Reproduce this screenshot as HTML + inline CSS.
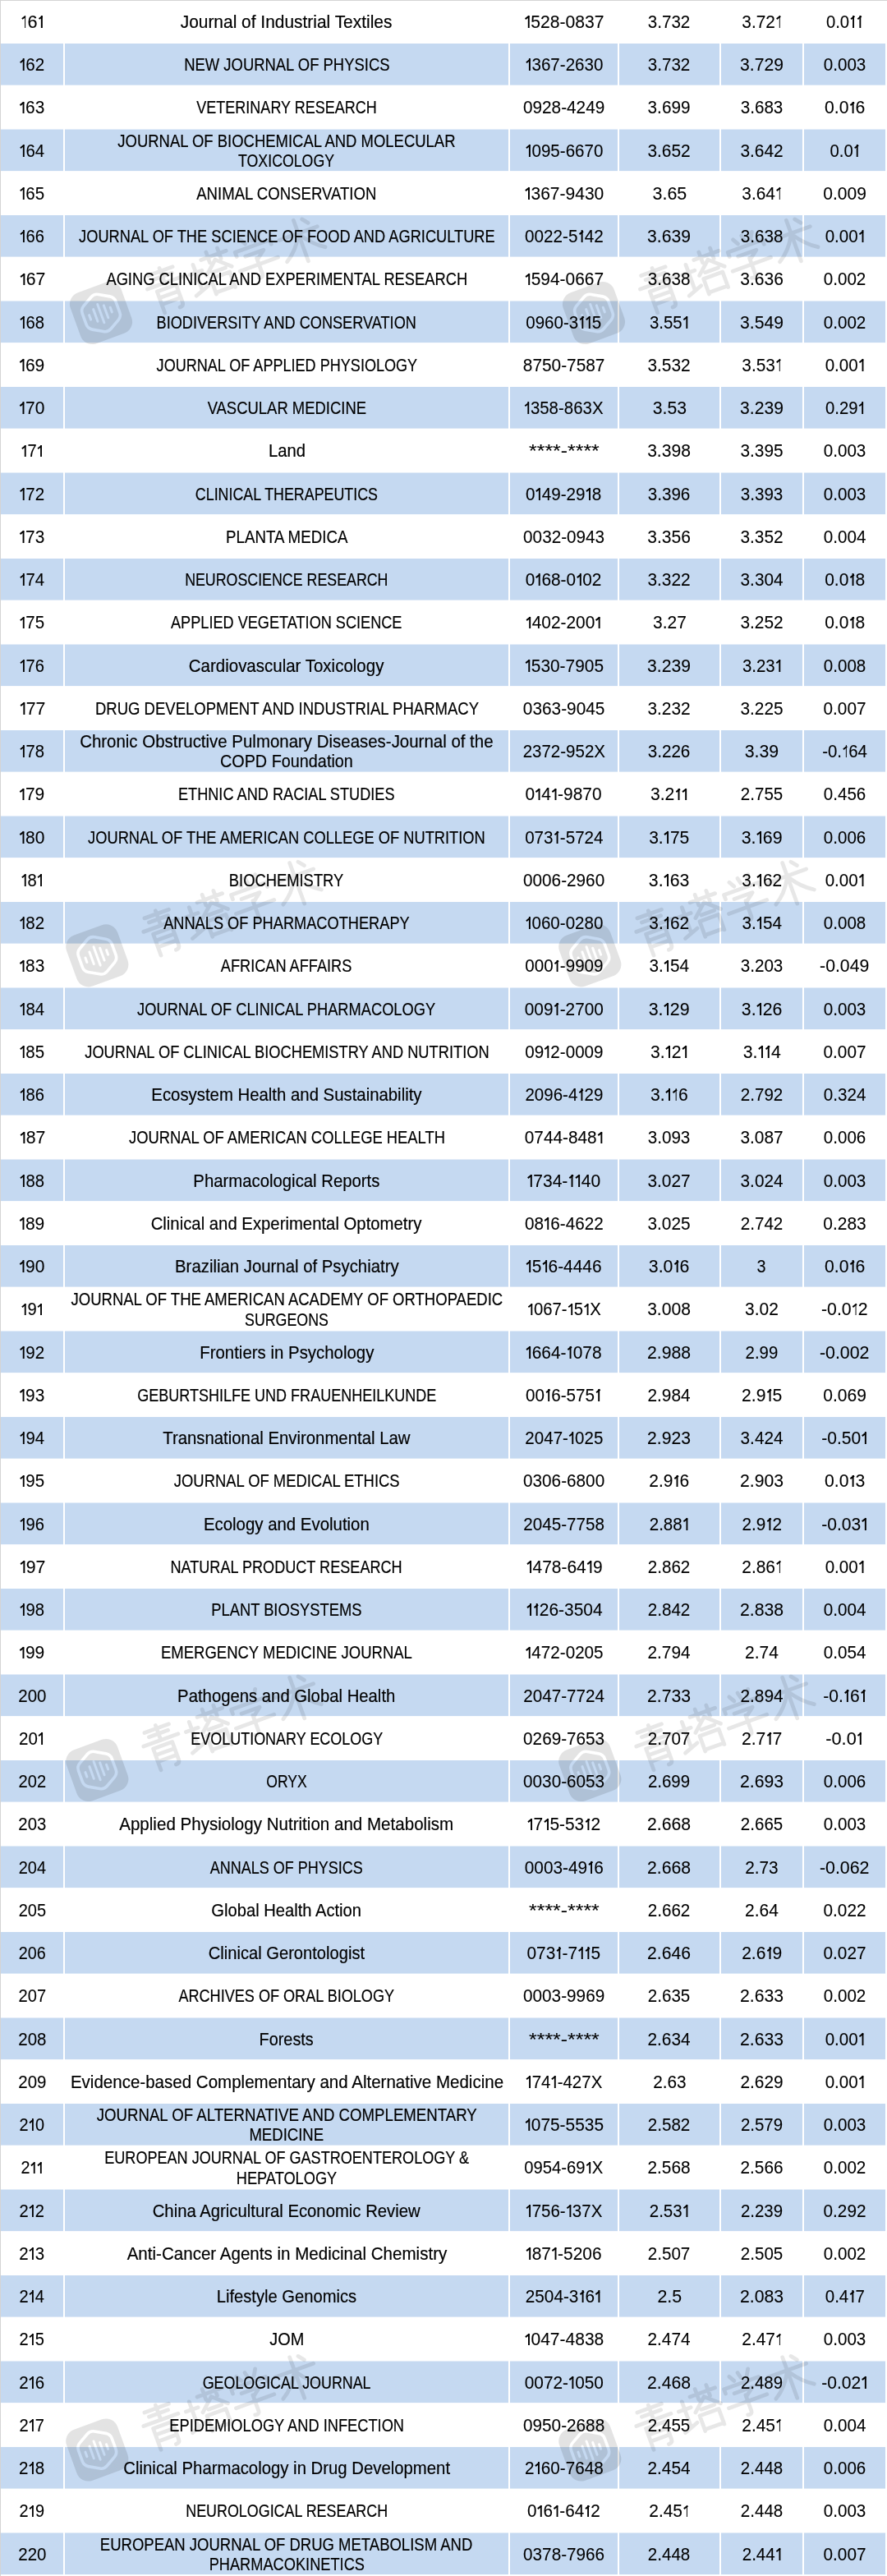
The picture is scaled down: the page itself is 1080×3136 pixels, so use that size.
<!DOCTYPE html>
<html><head><meta charset="utf-8"><title>table</title><style>
html,body{margin:0;padding:0;background:#fff}
body{width:1080px;height:3136px;overflow:hidden;position:relative;font-family:"Liberation Sans",sans-serif;font-size:22px;color:#000}
.c{position:absolute;display:flex;flex-direction:column;align-items:center;justify-content:center}
.t{display:block;white-space:nowrap;line-height:24.2px;-webkit-text-stroke:0.2px #000}
.n{-webkit-text-stroke:0.1px #000}
.o{display:inline-block;position:relative;height:14.8px;vertical-align:baseline;width:calc(8.2px / var(--k))}
.o::before{content:"";position:absolute;right:calc(1.9px / var(--k));top:0;width:calc(1.85px / var(--k));height:14.8px;background:#000}
.o::after{content:"";position:absolute;right:calc(2.8px / var(--k));top:0.2px;width:calc(5.4px / var(--k));height:1.8px;background:#000;transform:rotate(-36deg);transform-origin:100% 0}
svg{position:absolute;left:0;top:0}
</style></head><body>

<svg width="1080" height="3136" viewBox="0 0 1080 3136">
<rect x="0" y="0" width="1080" height="1" fill="#d4d4d4"/>
<rect x="0" y="0" width="1" height="3136" fill="#d4d4d4"/>
<rect x="1" y="53.00" width="76" height="50.60" fill="#c5d9f1"/>
<rect x="79" y="53.00" width="540" height="50.60" fill="#c5d9f1"/>
<rect x="621" y="53.00" width="131" height="50.60" fill="#c5d9f1"/>
<rect x="754" y="53.00" width="122" height="50.60" fill="#c5d9f1"/>
<rect x="878" y="53.00" width="99" height="50.60" fill="#c5d9f1"/>
<rect x="979" y="53.00" width="99" height="50.60" fill="#c5d9f1"/>
<rect x="1" y="157.50" width="76" height="50.60" fill="#c5d9f1"/>
<rect x="79" y="157.50" width="540" height="50.60" fill="#c5d9f1"/>
<rect x="621" y="157.50" width="131" height="50.60" fill="#c5d9f1"/>
<rect x="754" y="157.50" width="122" height="50.60" fill="#c5d9f1"/>
<rect x="878" y="157.50" width="99" height="50.60" fill="#c5d9f1"/>
<rect x="979" y="157.50" width="99" height="50.60" fill="#c5d9f1"/>
<rect x="1" y="262.00" width="76" height="50.60" fill="#c5d9f1"/>
<rect x="79" y="262.00" width="540" height="50.60" fill="#c5d9f1"/>
<rect x="621" y="262.00" width="131" height="50.60" fill="#c5d9f1"/>
<rect x="754" y="262.00" width="122" height="50.60" fill="#c5d9f1"/>
<rect x="878" y="262.00" width="99" height="50.60" fill="#c5d9f1"/>
<rect x="979" y="262.00" width="99" height="50.60" fill="#c5d9f1"/>
<rect x="1" y="366.50" width="76" height="50.60" fill="#c5d9f1"/>
<rect x="79" y="366.50" width="540" height="50.60" fill="#c5d9f1"/>
<rect x="621" y="366.50" width="131" height="50.60" fill="#c5d9f1"/>
<rect x="754" y="366.50" width="122" height="50.60" fill="#c5d9f1"/>
<rect x="878" y="366.50" width="99" height="50.60" fill="#c5d9f1"/>
<rect x="979" y="366.50" width="99" height="50.60" fill="#c5d9f1"/>
<rect x="1" y="471.00" width="76" height="50.60" fill="#c5d9f1"/>
<rect x="79" y="471.00" width="540" height="50.60" fill="#c5d9f1"/>
<rect x="621" y="471.00" width="131" height="50.60" fill="#c5d9f1"/>
<rect x="754" y="471.00" width="122" height="50.60" fill="#c5d9f1"/>
<rect x="878" y="471.00" width="99" height="50.60" fill="#c5d9f1"/>
<rect x="979" y="471.00" width="99" height="50.60" fill="#c5d9f1"/>
<rect x="1" y="575.50" width="76" height="50.60" fill="#c5d9f1"/>
<rect x="79" y="575.50" width="540" height="50.60" fill="#c5d9f1"/>
<rect x="621" y="575.50" width="131" height="50.60" fill="#c5d9f1"/>
<rect x="754" y="575.50" width="122" height="50.60" fill="#c5d9f1"/>
<rect x="878" y="575.50" width="99" height="50.60" fill="#c5d9f1"/>
<rect x="979" y="575.50" width="99" height="50.60" fill="#c5d9f1"/>
<rect x="1" y="680.00" width="76" height="50.60" fill="#c5d9f1"/>
<rect x="79" y="680.00" width="540" height="50.60" fill="#c5d9f1"/>
<rect x="621" y="680.00" width="131" height="50.60" fill="#c5d9f1"/>
<rect x="754" y="680.00" width="122" height="50.60" fill="#c5d9f1"/>
<rect x="878" y="680.00" width="99" height="50.60" fill="#c5d9f1"/>
<rect x="979" y="680.00" width="99" height="50.60" fill="#c5d9f1"/>
<rect x="1" y="784.50" width="76" height="50.60" fill="#c5d9f1"/>
<rect x="79" y="784.50" width="540" height="50.60" fill="#c5d9f1"/>
<rect x="621" y="784.50" width="131" height="50.60" fill="#c5d9f1"/>
<rect x="754" y="784.50" width="122" height="50.60" fill="#c5d9f1"/>
<rect x="878" y="784.50" width="99" height="50.60" fill="#c5d9f1"/>
<rect x="979" y="784.50" width="99" height="50.60" fill="#c5d9f1"/>
<rect x="1" y="889.00" width="76" height="50.60" fill="#c5d9f1"/>
<rect x="79" y="889.00" width="540" height="50.60" fill="#c5d9f1"/>
<rect x="621" y="889.00" width="131" height="50.60" fill="#c5d9f1"/>
<rect x="754" y="889.00" width="122" height="50.60" fill="#c5d9f1"/>
<rect x="878" y="889.00" width="99" height="50.60" fill="#c5d9f1"/>
<rect x="979" y="889.00" width="99" height="50.60" fill="#c5d9f1"/>
<rect x="1" y="993.50" width="76" height="50.60" fill="#c5d9f1"/>
<rect x="79" y="993.50" width="540" height="50.60" fill="#c5d9f1"/>
<rect x="621" y="993.50" width="131" height="50.60" fill="#c5d9f1"/>
<rect x="754" y="993.50" width="122" height="50.60" fill="#c5d9f1"/>
<rect x="878" y="993.50" width="99" height="50.60" fill="#c5d9f1"/>
<rect x="979" y="993.50" width="99" height="50.60" fill="#c5d9f1"/>
<rect x="1" y="1098.00" width="76" height="50.60" fill="#c5d9f1"/>
<rect x="79" y="1098.00" width="540" height="50.60" fill="#c5d9f1"/>
<rect x="621" y="1098.00" width="131" height="50.60" fill="#c5d9f1"/>
<rect x="754" y="1098.00" width="122" height="50.60" fill="#c5d9f1"/>
<rect x="878" y="1098.00" width="99" height="50.60" fill="#c5d9f1"/>
<rect x="979" y="1098.00" width="99" height="50.60" fill="#c5d9f1"/>
<rect x="1" y="1202.50" width="76" height="50.60" fill="#c5d9f1"/>
<rect x="79" y="1202.50" width="540" height="50.60" fill="#c5d9f1"/>
<rect x="621" y="1202.50" width="131" height="50.60" fill="#c5d9f1"/>
<rect x="754" y="1202.50" width="122" height="50.60" fill="#c5d9f1"/>
<rect x="878" y="1202.50" width="99" height="50.60" fill="#c5d9f1"/>
<rect x="979" y="1202.50" width="99" height="50.60" fill="#c5d9f1"/>
<rect x="1" y="1307.00" width="76" height="50.60" fill="#c5d9f1"/>
<rect x="79" y="1307.00" width="540" height="50.60" fill="#c5d9f1"/>
<rect x="621" y="1307.00" width="131" height="50.60" fill="#c5d9f1"/>
<rect x="754" y="1307.00" width="122" height="50.60" fill="#c5d9f1"/>
<rect x="878" y="1307.00" width="99" height="50.60" fill="#c5d9f1"/>
<rect x="979" y="1307.00" width="99" height="50.60" fill="#c5d9f1"/>
<rect x="1" y="1411.50" width="76" height="50.60" fill="#c5d9f1"/>
<rect x="79" y="1411.50" width="540" height="50.60" fill="#c5d9f1"/>
<rect x="621" y="1411.50" width="131" height="50.60" fill="#c5d9f1"/>
<rect x="754" y="1411.50" width="122" height="50.60" fill="#c5d9f1"/>
<rect x="878" y="1411.50" width="99" height="50.60" fill="#c5d9f1"/>
<rect x="979" y="1411.50" width="99" height="50.60" fill="#c5d9f1"/>
<rect x="1" y="1516.00" width="76" height="50.60" fill="#c5d9f1"/>
<rect x="79" y="1516.00" width="540" height="50.60" fill="#c5d9f1"/>
<rect x="621" y="1516.00" width="131" height="50.60" fill="#c5d9f1"/>
<rect x="754" y="1516.00" width="122" height="50.60" fill="#c5d9f1"/>
<rect x="878" y="1516.00" width="99" height="50.60" fill="#c5d9f1"/>
<rect x="979" y="1516.00" width="99" height="50.60" fill="#c5d9f1"/>
<rect x="1" y="1620.50" width="76" height="50.60" fill="#c5d9f1"/>
<rect x="79" y="1620.50" width="540" height="50.60" fill="#c5d9f1"/>
<rect x="621" y="1620.50" width="131" height="50.60" fill="#c5d9f1"/>
<rect x="754" y="1620.50" width="122" height="50.60" fill="#c5d9f1"/>
<rect x="878" y="1620.50" width="99" height="50.60" fill="#c5d9f1"/>
<rect x="979" y="1620.50" width="99" height="50.60" fill="#c5d9f1"/>
<rect x="1" y="1725.00" width="76" height="50.60" fill="#c5d9f1"/>
<rect x="79" y="1725.00" width="540" height="50.60" fill="#c5d9f1"/>
<rect x="621" y="1725.00" width="131" height="50.60" fill="#c5d9f1"/>
<rect x="754" y="1725.00" width="122" height="50.60" fill="#c5d9f1"/>
<rect x="878" y="1725.00" width="99" height="50.60" fill="#c5d9f1"/>
<rect x="979" y="1725.00" width="99" height="50.60" fill="#c5d9f1"/>
<rect x="1" y="1829.50" width="76" height="50.60" fill="#c5d9f1"/>
<rect x="79" y="1829.50" width="540" height="50.60" fill="#c5d9f1"/>
<rect x="621" y="1829.50" width="131" height="50.60" fill="#c5d9f1"/>
<rect x="754" y="1829.50" width="122" height="50.60" fill="#c5d9f1"/>
<rect x="878" y="1829.50" width="99" height="50.60" fill="#c5d9f1"/>
<rect x="979" y="1829.50" width="99" height="50.60" fill="#c5d9f1"/>
<rect x="1" y="1934.00" width="76" height="50.60" fill="#c5d9f1"/>
<rect x="79" y="1934.00" width="540" height="50.60" fill="#c5d9f1"/>
<rect x="621" y="1934.00" width="131" height="50.60" fill="#c5d9f1"/>
<rect x="754" y="1934.00" width="122" height="50.60" fill="#c5d9f1"/>
<rect x="878" y="1934.00" width="99" height="50.60" fill="#c5d9f1"/>
<rect x="979" y="1934.00" width="99" height="50.60" fill="#c5d9f1"/>
<rect x="1" y="2038.50" width="76" height="50.60" fill="#c5d9f1"/>
<rect x="79" y="2038.50" width="540" height="50.60" fill="#c5d9f1"/>
<rect x="621" y="2038.50" width="131" height="50.60" fill="#c5d9f1"/>
<rect x="754" y="2038.50" width="122" height="50.60" fill="#c5d9f1"/>
<rect x="878" y="2038.50" width="99" height="50.60" fill="#c5d9f1"/>
<rect x="979" y="2038.50" width="99" height="50.60" fill="#c5d9f1"/>
<rect x="1" y="2143.00" width="76" height="50.60" fill="#c5d9f1"/>
<rect x="79" y="2143.00" width="540" height="50.60" fill="#c5d9f1"/>
<rect x="621" y="2143.00" width="131" height="50.60" fill="#c5d9f1"/>
<rect x="754" y="2143.00" width="122" height="50.60" fill="#c5d9f1"/>
<rect x="878" y="2143.00" width="99" height="50.60" fill="#c5d9f1"/>
<rect x="979" y="2143.00" width="99" height="50.60" fill="#c5d9f1"/>
<rect x="1" y="2247.50" width="76" height="50.60" fill="#c5d9f1"/>
<rect x="79" y="2247.50" width="540" height="50.60" fill="#c5d9f1"/>
<rect x="621" y="2247.50" width="131" height="50.60" fill="#c5d9f1"/>
<rect x="754" y="2247.50" width="122" height="50.60" fill="#c5d9f1"/>
<rect x="878" y="2247.50" width="99" height="50.60" fill="#c5d9f1"/>
<rect x="979" y="2247.50" width="99" height="50.60" fill="#c5d9f1"/>
<rect x="1" y="2352.00" width="76" height="50.60" fill="#c5d9f1"/>
<rect x="79" y="2352.00" width="540" height="50.60" fill="#c5d9f1"/>
<rect x="621" y="2352.00" width="131" height="50.60" fill="#c5d9f1"/>
<rect x="754" y="2352.00" width="122" height="50.60" fill="#c5d9f1"/>
<rect x="878" y="2352.00" width="99" height="50.60" fill="#c5d9f1"/>
<rect x="979" y="2352.00" width="99" height="50.60" fill="#c5d9f1"/>
<rect x="1" y="2456.50" width="76" height="50.60" fill="#c5d9f1"/>
<rect x="79" y="2456.50" width="540" height="50.60" fill="#c5d9f1"/>
<rect x="621" y="2456.50" width="131" height="50.60" fill="#c5d9f1"/>
<rect x="754" y="2456.50" width="122" height="50.60" fill="#c5d9f1"/>
<rect x="878" y="2456.50" width="99" height="50.60" fill="#c5d9f1"/>
<rect x="979" y="2456.50" width="99" height="50.60" fill="#c5d9f1"/>
<rect x="1" y="2561.00" width="76" height="50.60" fill="#c5d9f1"/>
<rect x="79" y="2561.00" width="540" height="50.60" fill="#c5d9f1"/>
<rect x="621" y="2561.00" width="131" height="50.60" fill="#c5d9f1"/>
<rect x="754" y="2561.00" width="122" height="50.60" fill="#c5d9f1"/>
<rect x="878" y="2561.00" width="99" height="50.60" fill="#c5d9f1"/>
<rect x="979" y="2561.00" width="99" height="50.60" fill="#c5d9f1"/>
<rect x="1" y="2665.50" width="76" height="50.60" fill="#c5d9f1"/>
<rect x="79" y="2665.50" width="540" height="50.60" fill="#c5d9f1"/>
<rect x="621" y="2665.50" width="131" height="50.60" fill="#c5d9f1"/>
<rect x="754" y="2665.50" width="122" height="50.60" fill="#c5d9f1"/>
<rect x="878" y="2665.50" width="99" height="50.60" fill="#c5d9f1"/>
<rect x="979" y="2665.50" width="99" height="50.60" fill="#c5d9f1"/>
<rect x="1" y="2770.00" width="76" height="50.60" fill="#c5d9f1"/>
<rect x="79" y="2770.00" width="540" height="50.60" fill="#c5d9f1"/>
<rect x="621" y="2770.00" width="131" height="50.60" fill="#c5d9f1"/>
<rect x="754" y="2770.00" width="122" height="50.60" fill="#c5d9f1"/>
<rect x="878" y="2770.00" width="99" height="50.60" fill="#c5d9f1"/>
<rect x="979" y="2770.00" width="99" height="50.60" fill="#c5d9f1"/>
<rect x="1" y="2874.50" width="76" height="50.60" fill="#c5d9f1"/>
<rect x="79" y="2874.50" width="540" height="50.60" fill="#c5d9f1"/>
<rect x="621" y="2874.50" width="131" height="50.60" fill="#c5d9f1"/>
<rect x="754" y="2874.50" width="122" height="50.60" fill="#c5d9f1"/>
<rect x="878" y="2874.50" width="99" height="50.60" fill="#c5d9f1"/>
<rect x="979" y="2874.50" width="99" height="50.60" fill="#c5d9f1"/>
<rect x="1" y="2979.00" width="76" height="50.60" fill="#c5d9f1"/>
<rect x="79" y="2979.00" width="540" height="50.60" fill="#c5d9f1"/>
<rect x="621" y="2979.00" width="131" height="50.60" fill="#c5d9f1"/>
<rect x="754" y="2979.00" width="122" height="50.60" fill="#c5d9f1"/>
<rect x="878" y="2979.00" width="99" height="50.60" fill="#c5d9f1"/>
<rect x="979" y="2979.00" width="99" height="50.60" fill="#c5d9f1"/>
<rect x="1" y="3083.50" width="76" height="50.60" fill="#c5d9f1"/>
<rect x="79" y="3083.50" width="540" height="50.60" fill="#c5d9f1"/>
<rect x="621" y="3083.50" width="131" height="50.60" fill="#c5d9f1"/>
<rect x="754" y="3083.50" width="122" height="50.60" fill="#c5d9f1"/>
<rect x="878" y="3083.50" width="99" height="50.60" fill="#c5d9f1"/>
<rect x="979" y="3083.50" width="99" height="50.60" fill="#c5d9f1"/>
</svg>
<div class="c" style="left:1px;top:1.75px;width:76px;height:50.60px"><span class="t n" style="transform:scaleX(0.9868);--k:0.9868"><i class="o"></i>6<i class="o"></i></span></div>
<div class="c" style="left:79px;top:1.75px;width:540px;height:50.60px"><span class="t" style="transform:scaleX(0.9507);--k:0.9507">Journal of Industrial Textiles</span></div>
<div class="c" style="left:621px;top:1.75px;width:131px;height:50.60px"><span class="t n" style="transform:scaleX(0.9607);--k:0.9607"><i class="o"></i>528-0837</span></div>
<div class="c" style="left:754px;top:1.75px;width:122px;height:50.60px"><span class="t n" style="transform:scaleX(0.9345);--k:0.9345">3.732</span></div>
<div class="c" style="left:878px;top:1.75px;width:99px;height:50.60px"><span class="t n" style="transform:scaleX(0.9466);--k:0.9466">3.72<i class="o"></i></span></div>
<div class="c" style="left:979px;top:1.75px;width:99px;height:50.60px"><span class="t n" style="transform:scaleX(0.9206);--k:0.9206">0.0<i class="o"></i><i class="o"></i></span></div>
<div class="c" style="left:1px;top:54.00px;width:76px;height:50.60px"><span class="t n" style="transform:scaleX(0.9343);--k:0.9343"><i class="o"></i>62</span></div>
<div class="c" style="left:79px;top:54.00px;width:540px;height:50.60px"><span class="t" style="transform:scaleX(0.8381);--k:0.8381">NEW JOURNAL OF PHYSICS</span></div>
<div class="c" style="left:621px;top:54.00px;width:131px;height:50.60px"><span class="t n" style="transform:scaleX(0.9358);--k:0.9358"><i class="o"></i>367-2630</span></div>
<div class="c" style="left:754px;top:54.00px;width:122px;height:50.60px"><span class="t n" style="transform:scaleX(0.9345);--k:0.9345">3.732</span></div>
<div class="c" style="left:878px;top:54.00px;width:99px;height:50.60px"><span class="t n" style="transform:scaleX(0.9608);--k:0.9608">3.729</span></div>
<div class="c" style="left:979px;top:54.00px;width:99px;height:50.60px"><span class="t n" style="transform:scaleX(0.9371);--k:0.9371">0.003</span></div>
<div class="c" style="left:1px;top:106.25px;width:76px;height:50.60px"><span class="t n" style="transform:scaleX(0.9484);--k:0.9484"><i class="o"></i>63</span></div>
<div class="c" style="left:79px;top:106.25px;width:540px;height:50.60px"><span class="t" style="transform:scaleX(0.8187);--k:0.8187">VETERINARY RESEARCH</span></div>
<div class="c" style="left:621px;top:106.25px;width:131px;height:50.60px"><span class="t n" style="transform:scaleX(0.9435);--k:0.9435">0928-4249</span></div>
<div class="c" style="left:754px;top:106.25px;width:122px;height:50.60px"><span class="t n" style="transform:scaleX(0.9423);--k:0.9423">3.699</span></div>
<div class="c" style="left:878px;top:106.25px;width:99px;height:50.60px"><span class="t n" style="transform:scaleX(0.9376);--k:0.9376">3.683</span></div>
<div class="c" style="left:979px;top:106.25px;width:99px;height:50.60px"><span class="t n" style="transform:scaleX(0.9616);--k:0.9616">0.0<i class="o"></i>6</span></div>
<div class="c" style="left:1px;top:158.50px;width:76px;height:50.60px"><span class="t n" style="transform:scaleX(0.9253);--k:0.9253"><i class="o"></i>64</span></div>
<div class="c" style="left:79px;top:158.50px;width:540px;height:50.60px"><span class="t" style="transform:scaleX(0.8395);--k:0.8395">JOURNAL OF BIOCHEMICAL AND MOLECULAR</span><span class="t" style="transform:scaleX(0.8061);--k:0.8061">TOXICOLOGY</span></div>
<div class="c" style="left:621px;top:158.50px;width:131px;height:50.60px"><span class="t n" style="transform:scaleX(0.9358);--k:0.9358"><i class="o"></i>095-6670</span></div>
<div class="c" style="left:754px;top:158.50px;width:122px;height:50.60px"><span class="t n" style="transform:scaleX(0.9491);--k:0.9491">3.652</span></div>
<div class="c" style="left:878px;top:158.50px;width:99px;height:50.60px"><span class="t n" style="transform:scaleX(0.9491);--k:0.9491">3.642</span></div>
<div class="c" style="left:979px;top:158.50px;width:99px;height:50.60px"><span class="t n" style="transform:scaleX(0.9205);--k:0.9205">0.0<i class="o"></i></span></div>
<div class="c" style="left:1px;top:210.75px;width:76px;height:50.60px"><span class="t n" style="transform:scaleX(0.9307);--k:0.9307"><i class="o"></i>65</span></div>
<div class="c" style="left:79px;top:210.75px;width:540px;height:50.60px"><span class="t" style="transform:scaleX(0.8444);--k:0.8444">ANIMAL CONSERVATION</span></div>
<div class="c" style="left:621px;top:210.75px;width:131px;height:50.60px"><span class="t n" style="transform:scaleX(0.9558);--k:0.9558"><i class="o"></i>367-9430</span></div>
<div class="c" style="left:754px;top:210.75px;width:122px;height:50.60px"><span class="t n" style="transform:scaleX(0.9747);--k:0.9747">3.65</span></div>
<div class="c" style="left:878px;top:210.75px;width:99px;height:50.60px"><span class="t n" style="transform:scaleX(0.9466);--k:0.9466">3.64<i class="o"></i></span></div>
<div class="c" style="left:979px;top:210.75px;width:99px;height:50.60px"><span class="t n" style="transform:scaleX(0.9574);--k:0.9574">0.009</span></div>
<div class="c" style="left:1px;top:263.00px;width:76px;height:50.60px"><span class="t n" style="transform:scaleX(0.9168);--k:0.9168"><i class="o"></i>66</span></div>
<div class="c" style="left:79px;top:263.00px;width:540px;height:50.60px"><span class="t" style="transform:scaleX(0.8295);--k:0.8295">JOURNAL OF THE SCIENCE OF FOOD AND AGRICULTURE</span></div>
<div class="c" style="left:621px;top:263.00px;width:131px;height:50.60px"><span class="t n" style="transform:scaleX(0.9406);--k:0.9406">0022-5<i class="o"></i>42</span></div>
<div class="c" style="left:754px;top:263.00px;width:122px;height:50.60px"><span class="t n" style="transform:scaleX(0.9608);--k:0.9608">3.639</span></div>
<div class="c" style="left:878px;top:263.00px;width:99px;height:50.60px"><span class="t n" style="transform:scaleX(0.9398);--k:0.9398">3.638</span></div>
<div class="c" style="left:979px;top:263.00px;width:99px;height:50.60px"><span class="t n" style="transform:scaleX(0.9351);--k:0.9351">0.00<i class="o"></i></span></div>
<div class="c" style="left:1px;top:315.25px;width:76px;height:50.60px"><span class="t n" style="transform:scaleX(0.9665);--k:0.9665"><i class="o"></i>67</span></div>
<div class="c" style="left:79px;top:315.25px;width:540px;height:50.60px"><span class="t" style="transform:scaleX(0.8319);--k:0.8319">AGING CLINICAL AND EXPERIMENTAL RESEARCH</span></div>
<div class="c" style="left:621px;top:315.25px;width:131px;height:50.60px"><span class="t n" style="transform:scaleX(0.9504);--k:0.9504"><i class="o"></i>594-0667</span></div>
<div class="c" style="left:754px;top:315.25px;width:122px;height:50.60px"><span class="t n" style="transform:scaleX(0.9398);--k:0.9398">3.638</span></div>
<div class="c" style="left:878px;top:315.25px;width:99px;height:50.60px"><span class="t n" style="transform:scaleX(0.9568);--k:0.9568">3.636</span></div>
<div class="c" style="left:979px;top:315.25px;width:99px;height:50.60px"><span class="t n" style="transform:scaleX(0.9373);--k:0.9373">0.002</span></div>
<div class="c" style="left:1px;top:367.50px;width:76px;height:50.60px"><span class="t n" style="transform:scaleX(0.9203);--k:0.9203"><i class="o"></i>68</span></div>
<div class="c" style="left:79px;top:367.50px;width:540px;height:50.60px"><span class="t" style="transform:scaleX(0.8247);--k:0.8247">BIODIVERSITY AND CONSERVATION</span></div>
<div class="c" style="left:621px;top:367.50px;width:131px;height:50.60px"><span class="t n" style="transform:scaleX(0.9336);--k:0.9336">0960-3<i class="o"></i><i class="o"></i>5</span></div>
<div class="c" style="left:754px;top:367.50px;width:122px;height:50.60px"><span class="t n" style="transform:scaleX(0.9265);--k:0.9265">3.55<i class="o"></i></span></div>
<div class="c" style="left:878px;top:367.50px;width:99px;height:50.60px"><span class="t n" style="transform:scaleX(0.9608);--k:0.9608">3.549</span></div>
<div class="c" style="left:979px;top:367.50px;width:99px;height:50.60px"><span class="t n" style="transform:scaleX(0.9373);--k:0.9373">0.002</span></div>
<div class="c" style="left:1px;top:419.75px;width:76px;height:50.60px"><span class="t n" style="transform:scaleX(0.9545);--k:0.9545"><i class="o"></i>69</span></div>
<div class="c" style="left:79px;top:419.75px;width:540px;height:50.60px"><span class="t" style="transform:scaleX(0.8211);--k:0.8211">JOURNAL OF APPLIED PHYSIOLOGY</span></div>
<div class="c" style="left:621px;top:419.75px;width:131px;height:50.60px"><span class="t n" style="transform:scaleX(0.9468);--k:0.9468">8750-7587</span></div>
<div class="c" style="left:754px;top:419.75px;width:122px;height:50.60px"><span class="t n" style="transform:scaleX(0.9487);--k:0.9487">3.532</span></div>
<div class="c" style="left:878px;top:419.75px;width:99px;height:50.60px"><span class="t n" style="transform:scaleX(0.9466);--k:0.9466">3.53<i class="o"></i></span></div>
<div class="c" style="left:979px;top:419.75px;width:99px;height:50.60px"><span class="t n" style="transform:scaleX(0.9351);--k:0.9351">0.00<i class="o"></i></span></div>
<div class="c" style="left:1px;top:472.00px;width:76px;height:50.60px"><span class="t n" style="transform:scaleX(0.9541);--k:0.9541"><i class="o"></i>70</span></div>
<div class="c" style="left:79px;top:472.00px;width:540px;height:50.60px"><span class="t" style="transform:scaleX(0.8384);--k:0.8384">VASCULAR MEDICINE</span></div>
<div class="c" style="left:621px;top:472.00px;width:131px;height:50.60px"><span class="t n" style="transform:scaleX(0.9290);--k:0.9290"><i class="o"></i>358-863X</span></div>
<div class="c" style="left:754px;top:472.00px;width:122px;height:50.60px"><span class="t n" style="transform:scaleX(0.9638);--k:0.9638">3.53</span></div>
<div class="c" style="left:878px;top:472.00px;width:99px;height:50.60px"><span class="t n" style="transform:scaleX(0.9608);--k:0.9608">3.239</span></div>
<div class="c" style="left:979px;top:472.00px;width:99px;height:50.60px"><span class="t n" style="transform:scaleX(0.9216);--k:0.9216">0.29<i class="o"></i></span></div>
<div class="c" style="left:1px;top:524.25px;width:76px;height:50.60px"><span class="t n" style="transform:scaleX(0.9182);--k:0.9182"><i class="o"></i>7<i class="o"></i></span></div>
<div class="c" style="left:79px;top:524.25px;width:540px;height:50.60px"><span class="t" style="transform:scaleX(0.9221);--k:0.9221">Land</span></div>
<div class="c" style="left:621px;top:524.25px;width:131px;height:50.60px"><span class="t n" style="transform:scaleX(1.1315);--k:1.1315">****-****</span></div>
<div class="c" style="left:754px;top:524.25px;width:122px;height:50.60px"><span class="t n" style="transform:scaleX(0.9589);--k:0.9589">3.398</span></div>
<div class="c" style="left:878px;top:524.25px;width:99px;height:50.60px"><span class="t n" style="transform:scaleX(0.9462);--k:0.9462">3.395</span></div>
<div class="c" style="left:979px;top:524.25px;width:99px;height:50.60px"><span class="t n" style="transform:scaleX(0.9371);--k:0.9371">0.003</span></div>
<div class="c" style="left:1px;top:576.50px;width:76px;height:50.60px"><span class="t n" style="transform:scaleX(0.9343);--k:0.9343"><i class="o"></i>72</span></div>
<div class="c" style="left:79px;top:576.50px;width:540px;height:50.60px"><span class="t" style="transform:scaleX(0.8115);--k:0.8115">CLINICAL THERAPEUTICS</span></div>
<div class="c" style="left:621px;top:576.50px;width:131px;height:50.60px"><span class="t n" style="transform:scaleX(0.9403);--k:0.9403">0<i class="o"></i>49-29<i class="o"></i>8</span></div>
<div class="c" style="left:754px;top:576.50px;width:122px;height:50.60px"><span class="t n" style="transform:scaleX(0.9380);--k:0.9380">3.396</span></div>
<div class="c" style="left:878px;top:576.50px;width:99px;height:50.60px"><span class="t n" style="transform:scaleX(0.9376);--k:0.9376">3.393</span></div>
<div class="c" style="left:979px;top:576.50px;width:99px;height:50.60px"><span class="t n" style="transform:scaleX(0.9371);--k:0.9371">0.003</span></div>
<div class="c" style="left:1px;top:628.75px;width:76px;height:50.60px"><span class="t n" style="transform:scaleX(0.9484);--k:0.9484"><i class="o"></i>73</span></div>
<div class="c" style="left:79px;top:628.75px;width:540px;height:50.60px"><span class="t" style="transform:scaleX(0.8507);--k:0.8507">PLANTA MEDICA</span></div>
<div class="c" style="left:621px;top:628.75px;width:131px;height:50.60px"><span class="t n" style="transform:scaleX(0.9412);--k:0.9412">0032-0943</span></div>
<div class="c" style="left:754px;top:628.75px;width:122px;height:50.60px"><span class="t n" style="transform:scaleX(0.9568);--k:0.9568">3.356</span></div>
<div class="c" style="left:878px;top:628.75px;width:99px;height:50.60px"><span class="t n" style="transform:scaleX(0.9487);--k:0.9487">3.352</span></div>
<div class="c" style="left:979px;top:628.75px;width:99px;height:50.60px"><span class="t n" style="transform:scaleX(0.9384);--k:0.9384">0.004</span></div>
<div class="c" style="left:1px;top:681.00px;width:76px;height:50.60px"><span class="t n" style="transform:scaleX(0.9253);--k:0.9253"><i class="o"></i>74</span></div>
<div class="c" style="left:79px;top:681.00px;width:540px;height:50.60px"><span class="t" style="transform:scaleX(0.8093);--k:0.8093">NEUROSCIENCE RESEARCH</span></div>
<div class="c" style="left:621px;top:681.00px;width:131px;height:50.60px"><span class="t n" style="transform:scaleX(0.9453);--k:0.9453">0<i class="o"></i>68-0<i class="o"></i>02</span></div>
<div class="c" style="left:754px;top:681.00px;width:122px;height:50.60px"><span class="t n" style="transform:scaleX(0.9491);--k:0.9491">3.322</span></div>
<div class="c" style="left:878px;top:681.00px;width:99px;height:50.60px"><span class="t n" style="transform:scaleX(0.9424);--k:0.9424">3.304</span></div>
<div class="c" style="left:979px;top:681.00px;width:99px;height:50.60px"><span class="t n" style="transform:scaleX(0.9540);--k:0.9540">0.0<i class="o"></i>8</span></div>
<div class="c" style="left:1px;top:733.25px;width:76px;height:50.60px"><span class="t n" style="transform:scaleX(0.9307);--k:0.9307"><i class="o"></i>75</span></div>
<div class="c" style="left:79px;top:733.25px;width:540px;height:50.60px"><span class="t" style="transform:scaleX(0.8242);--k:0.8242">APPLIED VEGETATION SCIENCE</span></div>
<div class="c" style="left:621px;top:733.25px;width:131px;height:50.60px"><span class="t n" style="transform:scaleX(0.9488);--k:0.9488"><i class="o"></i>402-200<i class="o"></i></span></div>
<div class="c" style="left:754px;top:733.25px;width:122px;height:50.60px"><span class="t n" style="transform:scaleX(0.9532);--k:0.9532">3.27</span></div>
<div class="c" style="left:878px;top:733.25px;width:99px;height:50.60px"><span class="t n" style="transform:scaleX(0.9487);--k:0.9487">3.252</span></div>
<div class="c" style="left:979px;top:733.25px;width:99px;height:50.60px"><span class="t n" style="transform:scaleX(0.9540);--k:0.9540">0.0<i class="o"></i>8</span></div>
<div class="c" style="left:1px;top:785.50px;width:76px;height:50.60px"><span class="t n" style="transform:scaleX(0.9168);--k:0.9168"><i class="o"></i>76</span></div>
<div class="c" style="left:79px;top:785.50px;width:540px;height:50.60px"><span class="t" style="transform:scaleX(0.9312);--k:0.9312">Cardiovascular Toxicology</span></div>
<div class="c" style="left:621px;top:785.50px;width:131px;height:50.60px"><span class="t n" style="transform:scaleX(0.9491);--k:0.9491"><i class="o"></i>530-7905</span></div>
<div class="c" style="left:754px;top:785.50px;width:122px;height:50.60px"><span class="t n" style="transform:scaleX(0.9608);--k:0.9608">3.239</span></div>
<div class="c" style="left:878px;top:785.50px;width:99px;height:50.60px"><span class="t n" style="transform:scaleX(0.9265);--k:0.9265">3.23<i class="o"></i></span></div>
<div class="c" style="left:979px;top:785.50px;width:99px;height:50.60px"><span class="t n" style="transform:scaleX(0.9360);--k:0.9360">0.008</span></div>
<div class="c" style="left:1px;top:837.75px;width:76px;height:50.60px"><span class="t n" style="transform:scaleX(0.9665);--k:0.9665"><i class="o"></i>77</span></div>
<div class="c" style="left:79px;top:837.75px;width:540px;height:50.60px"><span class="t" style="transform:scaleX(0.8416);--k:0.8416">DRUG DEVELOPMENT AND INDUSTRIAL PHARMACY</span></div>
<div class="c" style="left:621px;top:837.75px;width:131px;height:50.60px"><span class="t n" style="transform:scaleX(0.9457);--k:0.9457">0363-9045</span></div>
<div class="c" style="left:754px;top:837.75px;width:122px;height:50.60px"><span class="t n" style="transform:scaleX(0.9487);--k:0.9487">3.232</span></div>
<div class="c" style="left:878px;top:837.75px;width:99px;height:50.60px"><span class="t n" style="transform:scaleX(0.9462);--k:0.9462">3.225</span></div>
<div class="c" style="left:979px;top:837.75px;width:99px;height:50.60px"><span class="t n" style="transform:scaleX(0.9446);--k:0.9446">0.007</span></div>
<div class="c" style="left:1px;top:890.00px;width:76px;height:50.60px"><span class="t n" style="transform:scaleX(0.9203);--k:0.9203"><i class="o"></i>78</span></div>
<div class="c" style="left:79px;top:890.00px;width:540px;height:50.60px"><span class="t" style="transform:scaleX(0.9293);--k:0.9293">Chronic Obstructive Pulmonary Diseases-Journal of the</span><span class="t" style="transform:scaleX(0.9008);--k:0.9008">COPD Foundation</span></div>
<div class="c" style="left:621px;top:890.00px;width:131px;height:50.60px"><span class="t n" style="transform:scaleX(0.9321);--k:0.9321">2372-952X</span></div>
<div class="c" style="left:754px;top:890.00px;width:122px;height:50.60px"><span class="t n" style="transform:scaleX(0.9380);--k:0.9380">3.226</span></div>
<div class="c" style="left:878px;top:890.00px;width:99px;height:50.60px"><span class="t n" style="transform:scaleX(0.9693);--k:0.9693">3.39</span></div>
<div class="c" style="left:979px;top:890.00px;width:99px;height:50.60px"><span class="t n" style="transform:scaleX(0.9266);--k:0.9266">-0.<i class="o"></i>64</span></div>
<div class="c" style="left:1px;top:942.25px;width:76px;height:50.60px"><span class="t n" style="transform:scaleX(0.9545);--k:0.9545"><i class="o"></i>79</span></div>
<div class="c" style="left:79px;top:942.25px;width:540px;height:50.60px"><span class="t" style="transform:scaleX(0.8250);--k:0.8250">ETHNIC AND RACIAL STUDIES</span></div>
<div class="c" style="left:621px;top:942.25px;width:131px;height:50.60px"><span class="t n" style="transform:scaleX(0.9506);--k:0.9506">0<i class="o"></i>4<i class="o"></i>-9870</span></div>
<div class="c" style="left:754px;top:942.25px;width:122px;height:50.60px"><span class="t n" style="transform:scaleX(0.9603);--k:0.9603">3.2<i class="o"></i><i class="o"></i></span></div>
<div class="c" style="left:878px;top:942.25px;width:99px;height:50.60px"><span class="t n" style="transform:scaleX(0.9324);--k:0.9324">2.755</span></div>
<div class="c" style="left:979px;top:942.25px;width:99px;height:50.60px"><span class="t n" style="transform:scaleX(0.9336);--k:0.9336">0.456</span></div>
<div class="c" style="left:1px;top:994.50px;width:76px;height:50.60px"><span class="t n" style="transform:scaleX(0.9541);--k:0.9541"><i class="o"></i>80</span></div>
<div class="c" style="left:79px;top:994.50px;width:540px;height:50.60px"><span class="t" style="transform:scaleX(0.8314);--k:0.8314">JOURNAL OF THE AMERICAN COLLEGE OF NUTRITION</span></div>
<div class="c" style="left:621px;top:994.50px;width:131px;height:50.60px"><span class="t n" style="transform:scaleX(0.9382);--k:0.9382">073<i class="o"></i>-5724</span></div>
<div class="c" style="left:754px;top:994.50px;width:122px;height:50.60px"><span class="t n" style="transform:scaleX(0.9551);--k:0.9551">3.<i class="o"></i>75</span></div>
<div class="c" style="left:878px;top:994.50px;width:99px;height:50.60px"><span class="t n" style="transform:scaleX(0.9712);--k:0.9712">3.<i class="o"></i>69</span></div>
<div class="c" style="left:979px;top:994.50px;width:99px;height:50.60px"><span class="t n" style="transform:scaleX(0.9334);--k:0.9334">0.006</span></div>
<div class="c" style="left:1px;top:1046.75px;width:76px;height:50.60px"><span class="t n" style="transform:scaleX(0.9182);--k:0.9182"><i class="o"></i>8<i class="o"></i></span></div>
<div class="c" style="left:79px;top:1046.75px;width:540px;height:50.60px"><span class="t" style="transform:scaleX(0.8351);--k:0.8351">BIOCHEMISTRY</span></div>
<div class="c" style="left:621px;top:1046.75px;width:131px;height:50.60px"><span class="t n" style="transform:scaleX(0.9423);--k:0.9423">0006-2960</span></div>
<div class="c" style="left:754px;top:1046.75px;width:122px;height:50.60px"><span class="t n" style="transform:scaleX(0.9665);--k:0.9665">3.<i class="o"></i>63</span></div>
<div class="c" style="left:878px;top:1046.75px;width:99px;height:50.60px"><span class="t n" style="transform:scaleX(0.9477);--k:0.9477">3.<i class="o"></i>62</span></div>
<div class="c" style="left:979px;top:1046.75px;width:99px;height:50.60px"><span class="t n" style="transform:scaleX(0.9351);--k:0.9351">0.00<i class="o"></i></span></div>
<div class="c" style="left:1px;top:1099.00px;width:76px;height:50.60px"><span class="t n" style="transform:scaleX(0.9343);--k:0.9343"><i class="o"></i>82</span></div>
<div class="c" style="left:79px;top:1099.00px;width:540px;height:50.60px"><span class="t" style="transform:scaleX(0.8278);--k:0.8278">ANNALS OF PHARMACOTHERAPY</span></div>
<div class="c" style="left:621px;top:1099.00px;width:131px;height:50.60px"><span class="t n" style="transform:scaleX(0.9358);--k:0.9358"><i class="o"></i>060-0280</span></div>
<div class="c" style="left:754px;top:1099.00px;width:122px;height:50.60px"><span class="t n" style="transform:scaleX(0.9477);--k:0.9477">3.<i class="o"></i>62</span></div>
<div class="c" style="left:878px;top:1099.00px;width:99px;height:50.60px"><span class="t n" style="transform:scaleX(0.9423);--k:0.9423">3.<i class="o"></i>54</span></div>
<div class="c" style="left:979px;top:1099.00px;width:99px;height:50.60px"><span class="t n" style="transform:scaleX(0.9360);--k:0.9360">0.008</span></div>
<div class="c" style="left:1px;top:1151.25px;width:76px;height:50.60px"><span class="t n" style="transform:scaleX(0.9484);--k:0.9484"><i class="o"></i>83</span></div>
<div class="c" style="left:79px;top:1151.25px;width:540px;height:50.60px"><span class="t" style="transform:scaleX(0.8260);--k:0.8260">AFRICAN AFFAIRS</span></div>
<div class="c" style="left:621px;top:1151.25px;width:131px;height:50.60px"><span class="t n" style="transform:scaleX(0.9372);--k:0.9372">000<i class="o"></i>-9909</span></div>
<div class="c" style="left:754px;top:1151.25px;width:122px;height:50.60px"><span class="t n" style="transform:scaleX(0.9423);--k:0.9423">3.<i class="o"></i>54</span></div>
<div class="c" style="left:878px;top:1151.25px;width:99px;height:50.60px"><span class="t n" style="transform:scaleX(0.9376);--k:0.9376">3.203</span></div>
<div class="c" style="left:979px;top:1151.25px;width:99px;height:50.60px"><span class="t n" style="transform:scaleX(0.9655);--k:0.9655">-0.049</span></div>
<div class="c" style="left:1px;top:1203.50px;width:76px;height:50.60px"><span class="t n" style="transform:scaleX(0.9253);--k:0.9253"><i class="o"></i>84</span></div>
<div class="c" style="left:79px;top:1203.50px;width:540px;height:50.60px"><span class="t" style="transform:scaleX(0.8302);--k:0.8302">JOURNAL OF CLINICAL PHARMACOLOGY</span></div>
<div class="c" style="left:621px;top:1203.50px;width:131px;height:50.60px"><span class="t n" style="transform:scaleX(0.9459);--k:0.9459">009<i class="o"></i>-2700</span></div>
<div class="c" style="left:754px;top:1203.50px;width:122px;height:50.60px"><span class="t n" style="transform:scaleX(0.9712);--k:0.9712">3.<i class="o"></i>29</span></div>
<div class="c" style="left:878px;top:1203.50px;width:99px;height:50.60px"><span class="t n" style="transform:scaleX(0.9665);--k:0.9665">3.<i class="o"></i>26</span></div>
<div class="c" style="left:979px;top:1203.50px;width:99px;height:50.60px"><span class="t n" style="transform:scaleX(0.9371);--k:0.9371">0.003</span></div>
<div class="c" style="left:1px;top:1255.75px;width:76px;height:50.60px"><span class="t n" style="transform:scaleX(0.9307);--k:0.9307"><i class="o"></i>85</span></div>
<div class="c" style="left:79px;top:1255.75px;width:540px;height:50.60px"><span class="t" style="transform:scaleX(0.8305);--k:0.8305">JOURNAL OF CLINICAL BIOCHEMISTRY AND NUTRITION</span></div>
<div class="c" style="left:621px;top:1255.75px;width:131px;height:50.60px"><span class="t n" style="transform:scaleX(0.9372);--k:0.9372">09<i class="o"></i>2-0009</span></div>
<div class="c" style="left:754px;top:1255.75px;width:122px;height:50.60px"><span class="t n" style="transform:scaleX(0.9603);--k:0.9603">3.<i class="o"></i>2<i class="o"></i></span></div>
<div class="c" style="left:878px;top:1255.75px;width:99px;height:50.60px"><span class="t n" style="transform:scaleX(0.9669);--k:0.9669">3.<i class="o"></i><i class="o"></i>4</span></div>
<div class="c" style="left:979px;top:1255.75px;width:99px;height:50.60px"><span class="t n" style="transform:scaleX(0.9446);--k:0.9446">0.007</span></div>
<div class="c" style="left:1px;top:1308.00px;width:76px;height:50.60px"><span class="t n" style="transform:scaleX(0.9168);--k:0.9168"><i class="o"></i>86</span></div>
<div class="c" style="left:79px;top:1308.00px;width:540px;height:50.60px"><span class="t" style="transform:scaleX(0.9250);--k:0.9250">Ecosystem Health and Sustainability</span></div>
<div class="c" style="left:621px;top:1308.00px;width:131px;height:50.60px"><span class="t n" style="transform:scaleX(0.9319);--k:0.9319">2096-4<i class="o"></i>29</span></div>
<div class="c" style="left:754px;top:1308.00px;width:122px;height:50.60px"><span class="t n" style="transform:scaleX(0.9604);--k:0.9604">3.<i class="o"></i><i class="o"></i>6</span></div>
<div class="c" style="left:878px;top:1308.00px;width:99px;height:50.60px"><span class="t n" style="transform:scaleX(0.9354);--k:0.9354">2.792</span></div>
<div class="c" style="left:979px;top:1308.00px;width:99px;height:50.60px"><span class="t n" style="transform:scaleX(0.9384);--k:0.9384">0.324</span></div>
<div class="c" style="left:1px;top:1360.25px;width:76px;height:50.60px"><span class="t n" style="transform:scaleX(0.9665);--k:0.9665"><i class="o"></i>87</span></div>
<div class="c" style="left:79px;top:1360.25px;width:540px;height:50.60px"><span class="t" style="transform:scaleX(0.8353);--k:0.8353">JOURNAL OF AMERICAN COLLEGE HEALTH</span></div>
<div class="c" style="left:621px;top:1360.25px;width:131px;height:50.60px"><span class="t n" style="transform:scaleX(0.9447);--k:0.9447">0744-848<i class="o"></i></span></div>
<div class="c" style="left:754px;top:1360.25px;width:122px;height:50.60px"><span class="t n" style="transform:scaleX(0.9376);--k:0.9376">3.093</span></div>
<div class="c" style="left:878px;top:1360.25px;width:99px;height:50.60px"><span class="t n" style="transform:scaleX(0.9487);--k:0.9487">3.087</span></div>
<div class="c" style="left:979px;top:1360.25px;width:99px;height:50.60px"><span class="t n" style="transform:scaleX(0.9334);--k:0.9334">0.006</span></div>
<div class="c" style="left:1px;top:1412.50px;width:76px;height:50.60px"><span class="t n" style="transform:scaleX(0.9203);--k:0.9203"><i class="o"></i>88</span></div>
<div class="c" style="left:79px;top:1412.50px;width:540px;height:50.60px"><span class="t" style="transform:scaleX(0.9239);--k:0.9239">Pharmacological Reports</span></div>
<div class="c" style="left:621px;top:1412.50px;width:131px;height:50.60px"><span class="t n" style="transform:scaleX(0.9558);--k:0.9558"><i class="o"></i>734-<i class="o"></i><i class="o"></i>40</span></div>
<div class="c" style="left:754px;top:1412.50px;width:122px;height:50.60px"><span class="t n" style="transform:scaleX(0.9491);--k:0.9491">3.027</span></div>
<div class="c" style="left:878px;top:1412.50px;width:99px;height:50.60px"><span class="t n" style="transform:scaleX(0.9424);--k:0.9424">3.024</span></div>
<div class="c" style="left:979px;top:1412.50px;width:99px;height:50.60px"><span class="t n" style="transform:scaleX(0.9371);--k:0.9371">0.003</span></div>
<div class="c" style="left:1px;top:1464.75px;width:76px;height:50.60px"><span class="t n" style="transform:scaleX(0.9545);--k:0.9545"><i class="o"></i>89</span></div>
<div class="c" style="left:79px;top:1464.75px;width:540px;height:50.60px"><span class="t" style="transform:scaleX(0.9234);--k:0.9234">Clinical and Experimental Optometry</span></div>
<div class="c" style="left:621px;top:1464.75px;width:131px;height:50.60px"><span class="t n" style="transform:scaleX(0.9406);--k:0.9406">08<i class="o"></i>6-4622</span></div>
<div class="c" style="left:754px;top:1464.75px;width:122px;height:50.60px"><span class="t n" style="transform:scaleX(0.9462);--k:0.9462">3.025</span></div>
<div class="c" style="left:878px;top:1464.75px;width:99px;height:50.60px"><span class="t n" style="transform:scaleX(0.9354);--k:0.9354">2.742</span></div>
<div class="c" style="left:979px;top:1464.75px;width:99px;height:50.60px"><span class="t n" style="transform:scaleX(0.9522);--k:0.9522">0.283</span></div>
<div class="c" style="left:1px;top:1517.00px;width:76px;height:50.60px"><span class="t n" style="transform:scaleX(0.9541);--k:0.9541"><i class="o"></i>90</span></div>
<div class="c" style="left:79px;top:1517.00px;width:540px;height:50.60px"><span class="t" style="transform:scaleX(0.9250);--k:0.9250">Brazilian Journal of Psychiatry</span></div>
<div class="c" style="left:621px;top:1517.00px;width:131px;height:50.60px"><span class="t n" style="transform:scaleX(0.9490);--k:0.9490"><i class="o"></i>5<i class="o"></i>6-4446</span></div>
<div class="c" style="left:754px;top:1517.00px;width:122px;height:50.60px"><span class="t n" style="transform:scaleX(0.9665);--k:0.9665">3.0<i class="o"></i>6</span></div>
<div class="c" style="left:878px;top:1517.00px;width:99px;height:50.60px"><span class="t n" style="transform:scaleX(0.8982);--k:0.8982">3</span></div>
<div class="c" style="left:979px;top:1517.00px;width:99px;height:50.60px"><span class="t n" style="transform:scaleX(0.9616);--k:0.9616">0.0<i class="o"></i>6</span></div>
<div class="c" style="left:1px;top:1569.25px;width:76px;height:50.60px"><span class="t n" style="transform:scaleX(0.9182);--k:0.9182"><i class="o"></i>9<i class="o"></i></span></div>
<div class="c" style="left:79px;top:1569.25px;width:540px;height:50.60px"><span class="t" style="transform:scaleX(0.8416);--k:0.8416">JOURNAL OF THE AMERICAN ACADEMY OF ORTHOPAEDIC</span><span class="t" style="transform:scaleX(0.8082);--k:0.8082">SURGEONS</span></div>
<div class="c" style="left:621px;top:1569.25px;width:131px;height:50.60px"><span class="t n" style="transform:scaleX(0.9220);--k:0.9220"><i class="o"></i>067-<i class="o"></i>5<i class="o"></i>X</span></div>
<div class="c" style="left:754px;top:1569.25px;width:122px;height:50.60px"><span class="t n" style="transform:scaleX(0.9589);--k:0.9589">3.008</span></div>
<div class="c" style="left:878px;top:1569.25px;width:99px;height:50.60px"><span class="t n" style="transform:scaleX(0.9532);--k:0.9532">3.02</span></div>
<div class="c" style="left:979px;top:1569.25px;width:99px;height:50.60px"><span class="t n" style="transform:scaleX(0.9669);--k:0.9669">-0.0<i class="o"></i>2</span></div>
<div class="c" style="left:1px;top:1621.50px;width:76px;height:50.60px"><span class="t n" style="transform:scaleX(0.9343);--k:0.9343"><i class="o"></i>92</span></div>
<div class="c" style="left:79px;top:1621.50px;width:540px;height:50.60px"><span class="t" style="transform:scaleX(0.9282);--k:0.9282">Frontiers in Psychology</span></div>
<div class="c" style="left:621px;top:1621.50px;width:131px;height:50.60px"><span class="t n" style="transform:scaleX(0.9501);--k:0.9501"><i class="o"></i>664-<i class="o"></i>078</span></div>
<div class="c" style="left:754px;top:1621.50px;width:122px;height:50.60px"><span class="t n" style="transform:scaleX(0.9637);--k:0.9637">2.988</span></div>
<div class="c" style="left:878px;top:1621.50px;width:99px;height:50.60px"><span class="t n" style="transform:scaleX(0.9267);--k:0.9267">2.99</span></div>
<div class="c" style="left:979px;top:1621.50px;width:99px;height:50.60px"><span class="t n" style="transform:scaleX(0.9712);--k:0.9712">-0.002</span></div>
<div class="c" style="left:1px;top:1673.75px;width:76px;height:50.60px"><span class="t n" style="transform:scaleX(0.9484);--k:0.9484"><i class="o"></i>93</span></div>
<div class="c" style="left:79px;top:1673.75px;width:540px;height:50.60px"><span class="t" style="transform:scaleX(0.8188);--k:0.8188">GEBURTSHILFE UND FRAUENHEILKUNDE</span></div>
<div class="c" style="left:621px;top:1673.75px;width:131px;height:50.60px"><span class="t n" style="transform:scaleX(0.9386);--k:0.9386">00<i class="o"></i>6-575<i class="o"></i></span></div>
<div class="c" style="left:754px;top:1673.75px;width:122px;height:50.60px"><span class="t n" style="transform:scaleX(0.9475);--k:0.9475">2.984</span></div>
<div class="c" style="left:878px;top:1673.75px;width:99px;height:50.60px"><span class="t n" style="transform:scaleX(0.9601);--k:0.9601">2.9<i class="o"></i>5</span></div>
<div class="c" style="left:979px;top:1673.75px;width:99px;height:50.60px"><span class="t n" style="transform:scaleX(0.9574);--k:0.9574">0.069</span></div>
<div class="c" style="left:1px;top:1726.00px;width:76px;height:50.60px"><span class="t n" style="transform:scaleX(0.9253);--k:0.9253"><i class="o"></i>94</span></div>
<div class="c" style="left:79px;top:1726.00px;width:540px;height:50.60px"><span class="t" style="transform:scaleX(0.9249);--k:0.9249">Transnational Environmental Law</span></div>
<div class="c" style="left:621px;top:1726.00px;width:131px;height:50.60px"><span class="t n" style="transform:scaleX(0.9340);--k:0.9340">2047-<i class="o"></i>025</span></div>
<div class="c" style="left:754px;top:1726.00px;width:122px;height:50.60px"><span class="t n" style="transform:scaleX(0.9620);--k:0.9620">2.923</span></div>
<div class="c" style="left:878px;top:1726.00px;width:99px;height:50.60px"><span class="t n" style="transform:scaleX(0.9424);--k:0.9424">3.424</span></div>
<div class="c" style="left:979px;top:1726.00px;width:99px;height:50.60px"><span class="t n" style="transform:scaleX(0.9569);--k:0.9569">-0.50<i class="o"></i></span></div>
<div class="c" style="left:1px;top:1778.25px;width:76px;height:50.60px"><span class="t n" style="transform:scaleX(0.9307);--k:0.9307"><i class="o"></i>95</span></div>
<div class="c" style="left:79px;top:1778.25px;width:540px;height:50.60px"><span class="t" style="transform:scaleX(0.8366);--k:0.8366">JOURNAL OF MEDICAL ETHICS</span></div>
<div class="c" style="left:621px;top:1778.25px;width:131px;height:50.60px"><span class="t n" style="transform:scaleX(0.9423);--k:0.9423">0306-6800</span></div>
<div class="c" style="left:754px;top:1778.25px;width:122px;height:50.60px"><span class="t n" style="transform:scaleX(0.9512);--k:0.9512">2.9<i class="o"></i>6</span></div>
<div class="c" style="left:878px;top:1778.25px;width:99px;height:50.60px"><span class="t n" style="transform:scaleX(0.9624);--k:0.9624">2.903</span></div>
<div class="c" style="left:979px;top:1778.25px;width:99px;height:50.60px"><span class="t n" style="transform:scaleX(0.9620);--k:0.9620">0.0<i class="o"></i>3</span></div>
<div class="c" style="left:1px;top:1830.50px;width:76px;height:50.60px"><span class="t n" style="transform:scaleX(0.9168);--k:0.9168"><i class="o"></i>96</span></div>
<div class="c" style="left:79px;top:1830.50px;width:540px;height:50.60px"><span class="t" style="transform:scaleX(0.9273);--k:0.9273">Ecology and Evolution</span></div>
<div class="c" style="left:621px;top:1830.50px;width:131px;height:50.60px"><span class="t n" style="transform:scaleX(0.9372);--k:0.9372">2045-7758</span></div>
<div class="c" style="left:754px;top:1830.50px;width:122px;height:50.60px"><span class="t n" style="transform:scaleX(0.9322);--k:0.9322">2.88<i class="o"></i></span></div>
<div class="c" style="left:878px;top:1830.50px;width:99px;height:50.60px"><span class="t n" style="transform:scaleX(0.9425);--k:0.9425">2.9<i class="o"></i>2</span></div>
<div class="c" style="left:979px;top:1830.50px;width:99px;height:50.60px"><span class="t n" style="transform:scaleX(0.9569);--k:0.9569">-0.03<i class="o"></i></span></div>
<div class="c" style="left:1px;top:1882.75px;width:76px;height:50.60px"><span class="t n" style="transform:scaleX(0.9665);--k:0.9665"><i class="o"></i>97</span></div>
<div class="c" style="left:79px;top:1882.75px;width:540px;height:50.60px"><span class="t" style="transform:scaleX(0.8227);--k:0.8227">NATURAL PRODUCT RESEARCH</span></div>
<div class="c" style="left:621px;top:1882.75px;width:131px;height:50.60px"><span class="t n" style="transform:scaleX(0.9515);--k:0.9515"><i class="o"></i>478-64<i class="o"></i>9</span></div>
<div class="c" style="left:754px;top:1882.75px;width:122px;height:50.60px"><span class="t n" style="transform:scaleX(0.9354);--k:0.9354">2.862</span></div>
<div class="c" style="left:878px;top:1882.75px;width:99px;height:50.60px"><span class="t n" style="transform:scaleX(0.9520);--k:0.9520">2.86<i class="o"></i></span></div>
<div class="c" style="left:979px;top:1882.75px;width:99px;height:50.60px"><span class="t n" style="transform:scaleX(0.9351);--k:0.9351">0.00<i class="o"></i></span></div>
<div class="c" style="left:1px;top:1935.00px;width:76px;height:50.60px"><span class="t n" style="transform:scaleX(0.9203);--k:0.9203"><i class="o"></i>98</span></div>
<div class="c" style="left:79px;top:1935.00px;width:540px;height:50.60px"><span class="t" style="transform:scaleX(0.8342);--k:0.8342">PLANT BIOSYSTEMS</span></div>
<div class="c" style="left:621px;top:1935.00px;width:131px;height:50.60px"><span class="t n" style="transform:scaleX(0.9521);--k:0.9521"><i class="o"></i><i class="o"></i>26-3504</span></div>
<div class="c" style="left:754px;top:1935.00px;width:122px;height:50.60px"><span class="t n" style="transform:scaleX(0.9354);--k:0.9354">2.842</span></div>
<div class="c" style="left:878px;top:1935.00px;width:99px;height:50.60px"><span class="t n" style="transform:scaleX(0.9637);--k:0.9637">2.838</span></div>
<div class="c" style="left:979px;top:1935.00px;width:99px;height:50.60px"><span class="t n" style="transform:scaleX(0.9384);--k:0.9384">0.004</span></div>
<div class="c" style="left:1px;top:1987.25px;width:76px;height:50.60px"><span class="t n" style="transform:scaleX(0.9545);--k:0.9545"><i class="o"></i>99</span></div>
<div class="c" style="left:79px;top:1987.25px;width:540px;height:50.60px"><span class="t" style="transform:scaleX(0.8405);--k:0.8405">EMERGENCY MEDICINE JOURNAL</span></div>
<div class="c" style="left:621px;top:1987.25px;width:131px;height:50.60px"><span class="t n" style="transform:scaleX(0.9392);--k:0.9392"><i class="o"></i>472-0205</span></div>
<div class="c" style="left:754px;top:1987.25px;width:122px;height:50.60px"><span class="t n" style="transform:scaleX(0.9475);--k:0.9475">2.794</span></div>
<div class="c" style="left:878px;top:1987.25px;width:99px;height:50.60px"><span class="t n" style="transform:scaleX(0.9530);--k:0.9530">2.74</span></div>
<div class="c" style="left:979px;top:1987.25px;width:99px;height:50.60px"><span class="t n" style="transform:scaleX(0.9384);--k:0.9384">0.054</span></div>
<div class="c" style="left:1px;top:2039.50px;width:76px;height:50.60px"><span class="t n" style="transform:scaleX(0.9306);--k:0.9306">200</span></div>
<div class="c" style="left:79px;top:2039.50px;width:540px;height:50.60px"><span class="t" style="transform:scaleX(0.9226);--k:0.9226">Pathogens and Global Health</span></div>
<div class="c" style="left:621px;top:2039.50px;width:131px;height:50.60px"><span class="t n" style="transform:scaleX(0.9391);--k:0.9391">2047-7724</span></div>
<div class="c" style="left:754px;top:2039.50px;width:122px;height:50.60px"><span class="t n" style="transform:scaleX(0.9620);--k:0.9620">2.733</span></div>
<div class="c" style="left:878px;top:2039.50px;width:99px;height:50.60px"><span class="t n" style="transform:scaleX(0.9475);--k:0.9475">2.894</span></div>
<div class="c" style="left:979px;top:2039.50px;width:99px;height:50.60px"><span class="t n" style="transform:scaleX(0.9566);--k:0.9566">-0.<i class="o"></i>6<i class="o"></i></span></div>
<div class="c" style="left:1px;top:2091.75px;width:76px;height:50.60px"><span class="t n" style="transform:scaleX(0.9331);--k:0.9331">20<i class="o"></i></span></div>
<div class="c" style="left:79px;top:2091.75px;width:540px;height:50.60px"><span class="t" style="transform:scaleX(0.8168);--k:0.8168">EVOLUTIONARY ECOLOGY</span></div>
<div class="c" style="left:621px;top:2091.75px;width:131px;height:50.60px"><span class="t n" style="transform:scaleX(0.9412);--k:0.9412">0269-7653</span></div>
<div class="c" style="left:754px;top:2091.75px;width:122px;height:50.60px"><span class="t n" style="transform:scaleX(0.9354);--k:0.9354">2.707</span></div>
<div class="c" style="left:878px;top:2091.75px;width:99px;height:50.60px"><span class="t n" style="transform:scaleX(0.9625);--k:0.9625">2.7<i class="o"></i>7</span></div>
<div class="c" style="left:979px;top:2091.75px;width:99px;height:50.60px"><span class="t n" style="transform:scaleX(0.9886);--k:0.9886">-0.0<i class="o"></i></span></div>
<div class="c" style="left:1px;top:2144.00px;width:76px;height:50.60px"><span class="t n" style="transform:scaleX(0.9132);--k:0.9132">202</span></div>
<div class="c" style="left:79px;top:2144.00px;width:540px;height:50.60px"><span class="t" style="transform:scaleX(0.7964);--k:0.7964">ORYX</span></div>
<div class="c" style="left:621px;top:2144.00px;width:131px;height:50.60px"><span class="t n" style="transform:scaleX(0.9413);--k:0.9413">0030-6053</span></div>
<div class="c" style="left:754px;top:2144.00px;width:122px;height:50.60px"><span class="t n" style="transform:scaleX(0.9288);--k:0.9288">2.699</span></div>
<div class="c" style="left:878px;top:2144.00px;width:99px;height:50.60px"><span class="t n" style="transform:scaleX(0.9620);--k:0.9620">2.693</span></div>
<div class="c" style="left:979px;top:2144.00px;width:99px;height:50.60px"><span class="t n" style="transform:scaleX(0.9334);--k:0.9334">0.006</span></div>
<div class="c" style="left:1px;top:2196.25px;width:76px;height:50.60px"><span class="t n" style="transform:scaleX(0.9258);--k:0.9258">203</span></div>
<div class="c" style="left:79px;top:2196.25px;width:540px;height:50.60px"><span class="t" style="transform:scaleX(0.9347);--k:0.9347">Applied Physiology Nutrition and Metabolism</span></div>
<div class="c" style="left:621px;top:2196.25px;width:131px;height:50.60px"><span class="t n" style="transform:scaleX(0.9498);--k:0.9498"><i class="o"></i>7<i class="o"></i>5-53<i class="o"></i>2</span></div>
<div class="c" style="left:754px;top:2196.25px;width:122px;height:50.60px"><span class="t n" style="transform:scaleX(0.9635);--k:0.9635">2.668</span></div>
<div class="c" style="left:878px;top:2196.25px;width:99px;height:50.60px"><span class="t n" style="transform:scaleX(0.9324);--k:0.9324">2.665</span></div>
<div class="c" style="left:979px;top:2196.25px;width:99px;height:50.60px"><span class="t n" style="transform:scaleX(0.9371);--k:0.9371">0.003</span></div>
<div class="c" style="left:1px;top:2248.50px;width:76px;height:50.60px"><span class="t n" style="transform:scaleX(0.9054);--k:0.9054">204</span></div>
<div class="c" style="left:79px;top:2248.50px;width:540px;height:50.60px"><span class="t" style="transform:scaleX(0.8177);--k:0.8177">ANNALS OF PHYSICS</span></div>
<div class="c" style="left:621px;top:2248.50px;width:131px;height:50.60px"><span class="t n" style="transform:scaleX(0.9449);--k:0.9449">0003-49<i class="o"></i>6</span></div>
<div class="c" style="left:754px;top:2248.50px;width:122px;height:50.60px"><span class="t n" style="transform:scaleX(0.9635);--k:0.9635">2.668</span></div>
<div class="c" style="left:878px;top:2248.50px;width:99px;height:50.60px"><span class="t n" style="transform:scaleX(0.9452);--k:0.9452">2.73</span></div>
<div class="c" style="left:979px;top:2248.50px;width:99px;height:50.60px"><span class="t n" style="transform:scaleX(0.9712);--k:0.9712">-0.062</span></div>
<div class="c" style="left:1px;top:2300.75px;width:76px;height:50.60px"><span class="t n" style="transform:scaleX(0.9091);--k:0.9091">205</span></div>
<div class="c" style="left:79px;top:2300.75px;width:540px;height:50.60px"><span class="t" style="transform:scaleX(0.9162);--k:0.9162">Global Health Action</span></div>
<div class="c" style="left:621px;top:2300.75px;width:131px;height:50.60px"><span class="t n" style="transform:scaleX(1.1315);--k:1.1315">****-****</span></div>
<div class="c" style="left:754px;top:2300.75px;width:122px;height:50.60px"><span class="t n" style="transform:scaleX(0.9354);--k:0.9354">2.662</span></div>
<div class="c" style="left:878px;top:2300.75px;width:99px;height:50.60px"><span class="t n" style="transform:scaleX(0.9530);--k:0.9530">2.64</span></div>
<div class="c" style="left:979px;top:2300.75px;width:99px;height:50.60px"><span class="t n" style="transform:scaleX(0.9446);--k:0.9446">0.022</span></div>
<div class="c" style="left:1px;top:2353.00px;width:76px;height:50.60px"><span class="t n" style="transform:scaleX(0.8986);--k:0.8986">206</span></div>
<div class="c" style="left:79px;top:2353.00px;width:540px;height:50.60px"><span class="t" style="transform:scaleX(0.9150);--k:0.9150">Clinical Gerontologist</span></div>
<div class="c" style="left:621px;top:2353.00px;width:131px;height:50.60px"><span class="t n" style="transform:scaleX(0.9486);--k:0.9486">073<i class="o"></i>-7<i class="o"></i><i class="o"></i>5</span></div>
<div class="c" style="left:754px;top:2353.00px;width:122px;height:50.60px"><span class="t n" style="transform:scaleX(0.9624);--k:0.9624">2.646</span></div>
<div class="c" style="left:878px;top:2353.00px;width:99px;height:50.60px"><span class="t n" style="transform:scaleX(0.9558);--k:0.9558">2.6<i class="o"></i>9</span></div>
<div class="c" style="left:979px;top:2353.00px;width:99px;height:50.60px"><span class="t n" style="transform:scaleX(0.9446);--k:0.9446">0.027</span></div>
<div class="c" style="left:1px;top:2405.25px;width:76px;height:50.60px"><span class="t n" style="transform:scaleX(0.9132);--k:0.9132">207</span></div>
<div class="c" style="left:79px;top:2405.25px;width:540px;height:50.60px"><span class="t" style="transform:scaleX(0.8221);--k:0.8221">ARCHIVES OF ORAL BIOLOGY</span></div>
<div class="c" style="left:621px;top:2405.25px;width:131px;height:50.60px"><span class="t n" style="transform:scaleX(0.9435);--k:0.9435">0003-9969</span></div>
<div class="c" style="left:754px;top:2405.25px;width:122px;height:50.60px"><span class="t n" style="transform:scaleX(0.9324);--k:0.9324">2.635</span></div>
<div class="c" style="left:878px;top:2405.25px;width:99px;height:50.60px"><span class="t n" style="transform:scaleX(0.9617);--k:0.9617">2.633</span></div>
<div class="c" style="left:979px;top:2405.25px;width:99px;height:50.60px"><span class="t n" style="transform:scaleX(0.9373);--k:0.9373">0.002</span></div>
<div class="c" style="left:1px;top:2457.50px;width:76px;height:50.60px"><span class="t n" style="transform:scaleX(0.9307);--k:0.9307">208</span></div>
<div class="c" style="left:79px;top:2457.50px;width:540px;height:50.60px"><span class="t" style="transform:scaleX(0.9024);--k:0.9024">Forests</span></div>
<div class="c" style="left:621px;top:2457.50px;width:131px;height:50.60px"><span class="t n" style="transform:scaleX(1.1315);--k:1.1315">****-****</span></div>
<div class="c" style="left:754px;top:2457.50px;width:122px;height:50.60px"><span class="t n" style="transform:scaleX(0.9475);--k:0.9475">2.634</span></div>
<div class="c" style="left:878px;top:2457.50px;width:99px;height:50.60px"><span class="t n" style="transform:scaleX(0.9617);--k:0.9617">2.633</span></div>
<div class="c" style="left:979px;top:2457.50px;width:99px;height:50.60px"><span class="t n" style="transform:scaleX(0.9351);--k:0.9351">0.00<i class="o"></i></span></div>
<div class="c" style="left:1px;top:2509.75px;width:76px;height:50.60px"><span class="t n" style="transform:scaleX(0.9303);--k:0.9303">209</span></div>
<div class="c" style="left:79px;top:2509.75px;width:540px;height:50.60px"><span class="t" style="transform:scaleX(0.9331);--k:0.9331">Evidence-based Complementary and Alternative Medicine</span></div>
<div class="c" style="left:621px;top:2509.75px;width:131px;height:50.60px"><span class="t n" style="transform:scaleX(0.9307);--k:0.9307"><i class="o"></i>74<i class="o"></i>-427X</span></div>
<div class="c" style="left:754px;top:2509.75px;width:122px;height:50.60px"><span class="t n" style="transform:scaleX(0.9452);--k:0.9452">2.63</span></div>
<div class="c" style="left:878px;top:2509.75px;width:99px;height:50.60px"><span class="t n" style="transform:scaleX(0.9478);--k:0.9478">2.629</span></div>
<div class="c" style="left:979px;top:2509.75px;width:99px;height:50.60px"><span class="t n" style="transform:scaleX(0.9351);--k:0.9351">0.00<i class="o"></i></span></div>
<div class="c" style="left:1px;top:2562.00px;width:76px;height:50.60px"><span class="t n" style="transform:scaleX(0.9038);--k:0.9038">2<i class="o"></i>0</span></div>
<div class="c" style="left:79px;top:2562.00px;width:540px;height:50.60px"><span class="t" style="transform:scaleX(0.8474);--k:0.8474">JOURNAL OF ALTERNATIVE AND COMPLEMENTARY</span><span class="t" style="transform:scaleX(0.8438);--k:0.8438">MEDICINE</span></div>
<div class="c" style="left:621px;top:2562.00px;width:131px;height:50.60px"><span class="t n" style="transform:scaleX(0.9491);--k:0.9491"><i class="o"></i>075-5535</span></div>
<div class="c" style="left:754px;top:2562.00px;width:122px;height:50.60px"><span class="t n" style="transform:scaleX(0.9354);--k:0.9354">2.582</span></div>
<div class="c" style="left:878px;top:2562.00px;width:99px;height:50.60px"><span class="t n" style="transform:scaleX(0.9288);--k:0.9288">2.579</span></div>
<div class="c" style="left:979px;top:2562.00px;width:99px;height:50.60px"><span class="t n" style="transform:scaleX(0.9371);--k:0.9371">0.003</span></div>
<div class="c" style="left:1px;top:2614.25px;width:76px;height:50.60px"><span class="t n" style="transform:scaleX(0.8997);--k:0.8997">2<i class="o"></i><i class="o"></i></span></div>
<div class="c" style="left:79px;top:2614.25px;width:540px;height:50.60px"><span class="t" style="transform:scaleX(0.8215);--k:0.8215">EUROPEAN JOURNAL OF GASTROENTEROLOGY &amp;</span><span class="t" style="transform:scaleX(0.8277);--k:0.8277">HEPATOLOGY</span></div>
<div class="c" style="left:621px;top:2614.25px;width:131px;height:50.60px"><span class="t n" style="transform:scaleX(0.9197);--k:0.9197">0954-69<i class="o"></i>X</span></div>
<div class="c" style="left:754px;top:2614.25px;width:122px;height:50.60px"><span class="t n" style="transform:scaleX(0.9452);--k:0.9452">2.568</span></div>
<div class="c" style="left:878px;top:2614.25px;width:99px;height:50.60px"><span class="t n" style="transform:scaleX(0.9431);--k:0.9431">2.566</span></div>
<div class="c" style="left:979px;top:2614.25px;width:99px;height:50.60px"><span class="t n" style="transform:scaleX(0.9373);--k:0.9373">0.002</span></div>
<div class="c" style="left:1px;top:2666.50px;width:76px;height:50.60px"><span class="t n" style="transform:scaleX(0.9160);--k:0.9160">2<i class="o"></i>2</span></div>
<div class="c" style="left:79px;top:2666.50px;width:540px;height:50.60px"><span class="t" style="transform:scaleX(0.9225);--k:0.9225">China Agricultural Economic Review</span></div>
<div class="c" style="left:621px;top:2666.50px;width:131px;height:50.60px"><span class="t n" style="transform:scaleX(0.9305);--k:0.9305"><i class="o"></i>756-<i class="o"></i>37X</span></div>
<div class="c" style="left:754px;top:2666.50px;width:122px;height:50.60px"><span class="t n" style="transform:scaleX(0.9322);--k:0.9322">2.53<i class="o"></i></span></div>
<div class="c" style="left:878px;top:2666.50px;width:99px;height:50.60px"><span class="t n" style="transform:scaleX(0.9288);--k:0.9288">2.239</span></div>
<div class="c" style="left:979px;top:2666.50px;width:99px;height:50.60px"><span class="t n" style="transform:scaleX(0.9446);--k:0.9446">0.292</span></div>
<div class="c" style="left:1px;top:2718.75px;width:76px;height:50.60px"><span class="t n" style="transform:scaleX(0.9291);--k:0.9291">2<i class="o"></i>3</span></div>
<div class="c" style="left:79px;top:2718.75px;width:540px;height:50.60px"><span class="t" style="transform:scaleX(0.9345);--k:0.9345">Anti-Cancer Agents in Medicinal Chemistry</span></div>
<div class="c" style="left:621px;top:2718.75px;width:131px;height:50.60px"><span class="t n" style="transform:scaleX(0.9491);--k:0.9491"><i class="o"></i>87<i class="o"></i>-5206</span></div>
<div class="c" style="left:754px;top:2718.75px;width:122px;height:50.60px"><span class="t n" style="transform:scaleX(0.9354);--k:0.9354">2.507</span></div>
<div class="c" style="left:878px;top:2718.75px;width:99px;height:50.60px"><span class="t n" style="transform:scaleX(0.9324);--k:0.9324">2.505</span></div>
<div class="c" style="left:979px;top:2718.75px;width:99px;height:50.60px"><span class="t n" style="transform:scaleX(0.9373);--k:0.9373">0.002</span></div>
<div class="c" style="left:1px;top:2771.00px;width:76px;height:50.60px"><span class="t n" style="transform:scaleX(0.9094);--k:0.9094">2<i class="o"></i>4</span></div>
<div class="c" style="left:79px;top:2771.00px;width:540px;height:50.60px"><span class="t" style="transform:scaleX(0.9173);--k:0.9173">Lifestyle Genomics</span></div>
<div class="c" style="left:621px;top:2771.00px;width:131px;height:50.60px"><span class="t n" style="transform:scaleX(0.9438);--k:0.9438">2504-3<i class="o"></i>6<i class="o"></i></span></div>
<div class="c" style="left:754px;top:2771.00px;width:122px;height:50.60px"><span class="t n" style="transform:scaleX(0.9697);--k:0.9697">2.5</span></div>
<div class="c" style="left:878px;top:2771.00px;width:99px;height:50.60px"><span class="t n" style="transform:scaleX(0.9620);--k:0.9620">2.083</span></div>
<div class="c" style="left:979px;top:2771.00px;width:99px;height:50.60px"><span class="t n" style="transform:scaleX(0.9339);--k:0.9339">0.4<i class="o"></i>7</span></div>
<div class="c" style="left:1px;top:2823.25px;width:76px;height:50.60px"><span class="t n" style="transform:scaleX(0.9118);--k:0.9118">2<i class="o"></i>5</span></div>
<div class="c" style="left:79px;top:2823.25px;width:540px;height:50.60px"><span class="t" style="transform:scaleX(0.9044);--k:0.9044">JOM</span></div>
<div class="c" style="left:621px;top:2823.25px;width:131px;height:50.60px"><span class="t n" style="transform:scaleX(0.9559);--k:0.9559"><i class="o"></i>047-4838</span></div>
<div class="c" style="left:754px;top:2823.25px;width:122px;height:50.60px"><span class="t n" style="transform:scaleX(0.9475);--k:0.9475">2.474</span></div>
<div class="c" style="left:878px;top:2823.25px;width:99px;height:50.60px"><span class="t n" style="transform:scaleX(0.9520);--k:0.9520">2.47<i class="o"></i></span></div>
<div class="c" style="left:979px;top:2823.25px;width:99px;height:50.60px"><span class="t n" style="transform:scaleX(0.9371);--k:0.9371">0.003</span></div>
<div class="c" style="left:1px;top:2875.50px;width:76px;height:50.60px"><span class="t n" style="transform:scaleX(0.9302);--k:0.9302">2<i class="o"></i>6</span></div>
<div class="c" style="left:79px;top:2875.50px;width:540px;height:50.60px"><span class="t" style="transform:scaleX(0.8122);--k:0.8122">GEOLOGICAL JOURNAL</span></div>
<div class="c" style="left:621px;top:2875.50px;width:131px;height:50.60px"><span class="t n" style="transform:scaleX(0.9459);--k:0.9459">0072-<i class="o"></i>050</span></div>
<div class="c" style="left:754px;top:2875.50px;width:122px;height:50.60px"><span class="t n" style="transform:scaleX(0.9637);--k:0.9637">2.468</span></div>
<div class="c" style="left:878px;top:2875.50px;width:99px;height:50.60px"><span class="t n" style="transform:scaleX(0.9288);--k:0.9288">2.489</span></div>
<div class="c" style="left:979px;top:2875.50px;width:99px;height:50.60px"><span class="t n" style="transform:scaleX(0.9569);--k:0.9569">-0.02<i class="o"></i></span></div>
<div class="c" style="left:1px;top:2927.75px;width:76px;height:50.60px"><span class="t n" style="transform:scaleX(0.9160);--k:0.9160">2<i class="o"></i>7</span></div>
<div class="c" style="left:79px;top:2927.75px;width:540px;height:50.60px"><span class="t" style="transform:scaleX(0.8300);--k:0.8300">EPIDEMIOLOGY AND INFECTION</span></div>
<div class="c" style="left:621px;top:2927.75px;width:131px;height:50.60px"><span class="t n" style="transform:scaleX(0.9423);--k:0.9423">0950-2688</span></div>
<div class="c" style="left:754px;top:2927.75px;width:122px;height:50.60px"><span class="t n" style="transform:scaleX(0.9327);--k:0.9327">2.455</span></div>
<div class="c" style="left:878px;top:2927.75px;width:99px;height:50.60px"><span class="t n" style="transform:scaleX(0.9520);--k:0.9520">2.45<i class="o"></i></span></div>
<div class="c" style="left:979px;top:2927.75px;width:99px;height:50.60px"><span class="t n" style="transform:scaleX(0.9384);--k:0.9384">0.004</span></div>
<div class="c" style="left:1px;top:2980.00px;width:76px;height:50.60px"><span class="t n" style="transform:scaleX(0.9338);--k:0.9338">2<i class="o"></i>8</span></div>
<div class="c" style="left:79px;top:2980.00px;width:540px;height:50.60px"><span class="t" style="transform:scaleX(0.9240);--k:0.9240">Clinical Pharmacology in Drug Development</span></div>
<div class="c" style="left:621px;top:2980.00px;width:131px;height:50.60px"><span class="t n" style="transform:scaleX(0.9407);--k:0.9407">2<i class="o"></i>60-7648</span></div>
<div class="c" style="left:754px;top:2980.00px;width:122px;height:50.60px"><span class="t n" style="transform:scaleX(0.9475);--k:0.9475">2.454</span></div>
<div class="c" style="left:878px;top:2980.00px;width:99px;height:50.60px"><span class="t n" style="transform:scaleX(0.9322);--k:0.9322">2.448</span></div>
<div class="c" style="left:979px;top:2980.00px;width:99px;height:50.60px"><span class="t n" style="transform:scaleX(0.9334);--k:0.9334">0.006</span></div>
<div class="c" style="left:1px;top:3032.25px;width:76px;height:50.60px"><span class="t n" style="transform:scaleX(0.9048);--k:0.9048">2<i class="o"></i>9</span></div>
<div class="c" style="left:79px;top:3032.25px;width:540px;height:50.60px"><span class="t" style="transform:scaleX(0.8130);--k:0.8130">NEUROLOGICAL RESEARCH</span></div>
<div class="c" style="left:621px;top:3032.25px;width:131px;height:50.60px"><span class="t n" style="transform:scaleX(0.9392);--k:0.9392">0<i class="o"></i>6<i class="o"></i>-64<i class="o"></i>2</span></div>
<div class="c" style="left:754px;top:3032.25px;width:122px;height:50.60px"><span class="t n" style="transform:scaleX(0.9520);--k:0.9520">2.45<i class="o"></i></span></div>
<div class="c" style="left:878px;top:3032.25px;width:99px;height:50.60px"><span class="t n" style="transform:scaleX(0.9322);--k:0.9322">2.448</span></div>
<div class="c" style="left:979px;top:3032.25px;width:99px;height:50.60px"><span class="t n" style="transform:scaleX(0.9371);--k:0.9371">0.003</span></div>
<div class="c" style="left:1px;top:3084.50px;width:76px;height:50.60px"><span class="t n" style="transform:scaleX(0.9306);--k:0.9306">220</span></div>
<div class="c" style="left:79px;top:3084.50px;width:540px;height:50.60px"><span class="t" style="transform:scaleX(0.8411);--k:0.8411">EUROPEAN JOURNAL OF DRUG METABOLISM AND</span><span class="t" style="transform:scaleX(0.8281);--k:0.8281">PHARMACOKINETICS</span></div>
<div class="c" style="left:621px;top:3084.50px;width:131px;height:50.60px"><span class="t n" style="transform:scaleX(0.9413);--k:0.9413">0378-7966</span></div>
<div class="c" style="left:754px;top:3084.50px;width:122px;height:50.60px"><span class="t n" style="transform:scaleX(0.9322);--k:0.9322">2.448</span></div>
<div class="c" style="left:878px;top:3084.50px;width:99px;height:50.60px"><span class="t n" style="transform:scaleX(0.9322);--k:0.9322">2.44<i class="o"></i></span></div>
<div class="c" style="left:979px;top:3084.50px;width:99px;height:50.60px"><span class="t n" style="transform:scaleX(0.9446);--k:0.9446">0.007</span></div>
<svg width="1080" height="3136" viewBox="0 0 1080 3136" style="position:absolute;left:0;top:0">
<defs><mask id="lm" maskUnits="userSpaceOnUse" x="-40" y="-40" width="80" height="80">
<rect x="-40" y="-40" width="80" height="80" fill="#fff"/>
<path d="M-4.76 -22.25Q0.00 -25.00 4.76 -22.25L16.89 -15.25Q21.65 -12.50 21.65 -7.00L21.65 7.00Q21.65 12.50 16.89 15.25L4.76 22.25Q0.00 25.00 -4.76 22.25L-16.89 15.25Q-21.65 12.50 -21.65 7.00L-21.65 -7.00Q-21.65 -12.50 -16.89 -15.25Z" fill="none" stroke="#000" stroke-width="3.6" stroke-linejoin="round"/>
<path d="M-14.4 -2.4V3.4M-7.3 -7.3V8.3M-0.4 -11.4V12.4M6.3 -7.4V8.4M12.9 -2.5V3.5" fill="none" stroke="#000" stroke-width="3" stroke-linecap="round"/>
</mask></defs>
<g transform="translate(123.0 381.0) rotate(-20.0)"><rect x="-33" y="-33" width="66" height="66" rx="15" fill="#000" fill-opacity="0.11" mask="url(#lm)"/><g fill="none" stroke="#000" stroke-opacity="0.095" stroke-width="8.6" stroke-linecap="round" stroke-linejoin="round"><path transform="translate(57.4 -28) scale(0.56)" d="M22 9H78M50 2V36M28 21H72M10 36H90M28 48V97M28 48H72V89Q72 97 63 97M28 63H72M28 78H72"/><path transform="translate(115.2 -28) scale(0.56)" d="M4 38H32M18 20V78M2 86L34 74M38 16H96M54 4V28M80 4V28M67 26L38 52M67 26L96 52M52 50H82M44 62V97M44 62H88V97M44 94H88"/><path transform="translate(173.0 -28) scale(0.56)" d="M30 4L37 16M50 2L53 14M74 2L66 16M10 36V26H90V36M28 42H70L52 56M50 54V90Q50 98 40 96M6 68H94"/><path transform="translate(230.8 -28) scale(0.56)" d="M6 34H94M50 4V98M47 40Q32 68 6 84M53 40Q70 66 95 82M68 8L78 20"/></g></g>
<g transform="translate(723.0 381.0) rotate(-20.0)"><rect x="-33" y="-33" width="66" height="66" rx="15" fill="#000" fill-opacity="0.11" mask="url(#lm)"/><g fill="none" stroke="#000" stroke-opacity="0.095" stroke-width="8.6" stroke-linecap="round" stroke-linejoin="round"><path transform="translate(57.4 -28) scale(0.56)" d="M22 9H78M50 2V36M28 21H72M10 36H90M28 48V97M28 48H72V89Q72 97 63 97M28 63H72M28 78H72"/><path transform="translate(115.2 -28) scale(0.56)" d="M4 38H32M18 20V78M2 86L34 74M38 16H96M54 4V28M80 4V28M67 26L38 52M67 26L96 52M52 50H82M44 62V97M44 62H88V97M44 94H88"/><path transform="translate(173.0 -28) scale(0.56)" d="M30 4L37 16M50 2L53 14M74 2L66 16M10 36V26H90V36M28 42H70L52 56M50 54V90Q50 98 40 96M6 68H94"/><path transform="translate(230.8 -28) scale(0.56)" d="M6 34H94M50 4V98M47 40Q32 68 6 84M53 40Q70 66 95 82M68 8L78 20"/></g></g>
<g transform="translate(118.3 1163.3) rotate(-20.0)"><rect x="-33" y="-33" width="66" height="66" rx="15" fill="#000" fill-opacity="0.11" mask="url(#lm)"/><g fill="none" stroke="#000" stroke-opacity="0.095" stroke-width="8.6" stroke-linecap="round" stroke-linejoin="round"><path transform="translate(57.4 -28) scale(0.56)" d="M22 9H78M50 2V36M28 21H72M10 36H90M28 48V97M28 48H72V89Q72 97 63 97M28 63H72M28 78H72"/><path transform="translate(115.2 -28) scale(0.56)" d="M4 38H32M18 20V78M2 86L34 74M38 16H96M54 4V28M80 4V28M67 26L38 52M67 26L96 52M52 50H82M44 62V97M44 62H88V97M44 94H88"/><path transform="translate(173.0 -28) scale(0.56)" d="M30 4L37 16M50 2L53 14M74 2L66 16M10 36V26H90V36M28 42H70L52 56M50 54V90Q50 98 40 96M6 68H94"/><path transform="translate(230.8 -28) scale(0.56)" d="M6 34H94M50 4V98M47 40Q32 68 6 84M53 40Q70 66 95 82M68 8L78 20"/></g></g>
<g transform="translate(718.3 1163.3) rotate(-20.0)"><rect x="-33" y="-33" width="66" height="66" rx="15" fill="#000" fill-opacity="0.11" mask="url(#lm)"/><g fill="none" stroke="#000" stroke-opacity="0.095" stroke-width="8.6" stroke-linecap="round" stroke-linejoin="round"><path transform="translate(57.4 -28) scale(0.56)" d="M22 9H78M50 2V36M28 21H72M10 36H90M28 48V97M28 48H72V89Q72 97 63 97M28 63H72M28 78H72"/><path transform="translate(115.2 -28) scale(0.56)" d="M4 38H32M18 20V78M2 86L34 74M38 16H96M54 4V28M80 4V28M67 26L38 52M67 26L96 52M52 50H82M44 62V97M44 62H88V97M44 94H88"/><path transform="translate(173.0 -28) scale(0.56)" d="M30 4L37 16M50 2L53 14M74 2L66 16M10 36V26H90V36M28 42H70L52 56M50 54V90Q50 98 40 96M6 68H94"/><path transform="translate(230.8 -28) scale(0.56)" d="M6 34H94M50 4V98M47 40Q32 68 6 84M53 40Q70 66 95 82M68 8L78 20"/></g></g>
<g transform="translate(118.3 2155.0) rotate(-20.0)"><rect x="-33" y="-33" width="66" height="66" rx="15" fill="#000" fill-opacity="0.11" mask="url(#lm)"/><g fill="none" stroke="#000" stroke-opacity="0.095" stroke-width="8.6" stroke-linecap="round" stroke-linejoin="round"><path transform="translate(57.4 -28) scale(0.56)" d="M22 9H78M50 2V36M28 21H72M10 36H90M28 48V97M28 48H72V89Q72 97 63 97M28 63H72M28 78H72"/><path transform="translate(115.2 -28) scale(0.56)" d="M4 38H32M18 20V78M2 86L34 74M38 16H96M54 4V28M80 4V28M67 26L38 52M67 26L96 52M52 50H82M44 62V97M44 62H88V97M44 94H88"/><path transform="translate(173.0 -28) scale(0.56)" d="M30 4L37 16M50 2L53 14M74 2L66 16M10 36V26H90V36M28 42H70L52 56M50 54V90Q50 98 40 96M6 68H94"/><path transform="translate(230.8 -28) scale(0.56)" d="M6 34H94M50 4V98M47 40Q32 68 6 84M53 40Q70 66 95 82M68 8L78 20"/></g></g>
<g transform="translate(718.3 2155.0) rotate(-20.0)"><rect x="-33" y="-33" width="66" height="66" rx="15" fill="#000" fill-opacity="0.11" mask="url(#lm)"/><g fill="none" stroke="#000" stroke-opacity="0.095" stroke-width="8.6" stroke-linecap="round" stroke-linejoin="round"><path transform="translate(57.4 -28) scale(0.56)" d="M22 9H78M50 2V36M28 21H72M10 36H90M28 48V97M28 48H72V89Q72 97 63 97M28 63H72M28 78H72"/><path transform="translate(115.2 -28) scale(0.56)" d="M4 38H32M18 20V78M2 86L34 74M38 16H96M54 4V28M80 4V28M67 26L38 52M67 26L96 52M52 50H82M44 62V97M44 62H88V97M44 94H88"/><path transform="translate(173.0 -28) scale(0.56)" d="M30 4L37 16M50 2L53 14M74 2L66 16M10 36V26H90V36M28 42H70L52 56M50 54V90Q50 98 40 96M6 68H94"/><path transform="translate(230.8 -28) scale(0.56)" d="M6 34H94M50 4V98M47 40Q32 68 6 84M53 40Q70 66 95 82M68 8L78 20"/></g></g>
<g transform="translate(118.3 2982.5) rotate(-20.0)"><rect x="-33" y="-33" width="66" height="66" rx="15" fill="#000" fill-opacity="0.11" mask="url(#lm)"/><g fill="none" stroke="#000" stroke-opacity="0.095" stroke-width="8.6" stroke-linecap="round" stroke-linejoin="round"><path transform="translate(57.4 -28) scale(0.56)" d="M22 9H78M50 2V36M28 21H72M10 36H90M28 48V97M28 48H72V89Q72 97 63 97M28 63H72M28 78H72"/><path transform="translate(115.2 -28) scale(0.56)" d="M4 38H32M18 20V78M2 86L34 74M38 16H96M54 4V28M80 4V28M67 26L38 52M67 26L96 52M52 50H82M44 62V97M44 62H88V97M44 94H88"/><path transform="translate(173.0 -28) scale(0.56)" d="M30 4L37 16M50 2L53 14M74 2L66 16M10 36V26H90V36M28 42H70L52 56M50 54V90Q50 98 40 96M6 68H94"/><path transform="translate(230.8 -28) scale(0.56)" d="M6 34H94M50 4V98M47 40Q32 68 6 84M53 40Q70 66 95 82M68 8L78 20"/></g></g>
<g transform="translate(718.3 2982.5) rotate(-20.0)"><rect x="-33" y="-33" width="66" height="66" rx="15" fill="#000" fill-opacity="0.11" mask="url(#lm)"/><g fill="none" stroke="#000" stroke-opacity="0.095" stroke-width="8.6" stroke-linecap="round" stroke-linejoin="round"><path transform="translate(57.4 -28) scale(0.56)" d="M22 9H78M50 2V36M28 21H72M10 36H90M28 48V97M28 48H72V89Q72 97 63 97M28 63H72M28 78H72"/><path transform="translate(115.2 -28) scale(0.56)" d="M4 38H32M18 20V78M2 86L34 74M38 16H96M54 4V28M80 4V28M67 26L38 52M67 26L96 52M52 50H82M44 62V97M44 62H88V97M44 94H88"/><path transform="translate(173.0 -28) scale(0.56)" d="M30 4L37 16M50 2L53 14M74 2L66 16M10 36V26H90V36M28 42H70L52 56M50 54V90Q50 98 40 96M6 68H94"/><path transform="translate(230.8 -28) scale(0.56)" d="M6 34H94M50 4V98M47 40Q32 68 6 84M53 40Q70 66 95 82M68 8L78 20"/></g></g>
</svg>
</body></html>
